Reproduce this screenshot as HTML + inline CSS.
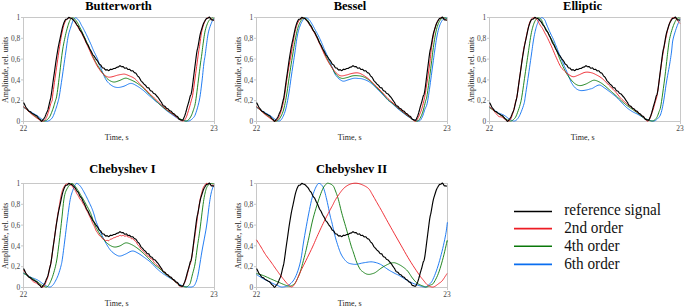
<!DOCTYPE html>
<html><head><meta charset="utf-8"><style>
html,body{margin:0;padding:0;background:#fff;width:685px;height:308px;overflow:hidden}
svg{display:block}
text{font-family:"Liberation Serif",serif}
.tk{font-size:7.4px;fill:#444}
.al{font-size:8px;fill:#222}
.ti{font-size:12.5px;font-weight:bold;fill:#000}
.lg{font-size:15.25px;fill:#111}
</style></head><body>
<svg width="685" height="308" viewBox="0 0 685 308">
<rect x="23.5" y="17.5" width="191.0" height="104.0" fill="none" stroke="#c8c8c8" stroke-width="1"/>
<line x1="21.0" y1="121.5" x2="23.5" y2="121.5" stroke="#c8c8c8" stroke-width="1"/>
<text x="20.3" y="124.1" text-anchor="end" class="tk">0</text>
<line x1="21.0" y1="100.7" x2="23.5" y2="100.7" stroke="#c8c8c8" stroke-width="1"/>
<text x="20.3" y="103.3" text-anchor="end" class="tk">0,2</text>
<line x1="21.0" y1="79.9" x2="23.5" y2="79.9" stroke="#c8c8c8" stroke-width="1"/>
<text x="20.3" y="82.5" text-anchor="end" class="tk">0,4</text>
<line x1="21.0" y1="59.1" x2="23.5" y2="59.1" stroke="#c8c8c8" stroke-width="1"/>
<text x="20.3" y="61.7" text-anchor="end" class="tk">0,6</text>
<line x1="21.0" y1="38.3" x2="23.5" y2="38.3" stroke="#c8c8c8" stroke-width="1"/>
<text x="20.3" y="40.9" text-anchor="end" class="tk">0,8</text>
<line x1="21.0" y1="17.5" x2="23.5" y2="17.5" stroke="#c8c8c8" stroke-width="1"/>
<text x="20.3" y="20.1" text-anchor="end" class="tk">1</text>
<line x1="23.5" y1="121.5" x2="23.5" y2="124.0" stroke="#c8c8c8" stroke-width="1"/>
<text x="23.5" y="130.8" text-anchor="middle" class="tk">22</text>
<line x1="214.5" y1="121.5" x2="214.5" y2="124.0" stroke="#c8c8c8" stroke-width="1"/>
<text x="214.0" y="130.8" text-anchor="middle" class="tk">23</text>
<text x="116.7" y="139.6" text-anchor="middle" class="al">Time, s</text>
<text transform="translate(8.2,69.8) rotate(-90)" text-anchor="middle" class="al">Amplitude, rel. units</text>
<text x="118.5" y="9.5" text-anchor="middle" class="ti">Butterworth</text>
<path d="M23.50,107.20 24.21,107.68 24.91,108.17 25.61,108.65 26.32,109.13 27.05,109.62 27.80,110.10 28.58,110.58 29.39,111.07 30.21,111.55 31.04,112.03 31.88,112.52 32.70,113.00 33.53,113.48 34.37,113.96 35.21,114.44 36.04,114.93 36.84,115.41 37.60,115.90 38.32,116.41 39.01,116.94 39.67,117.48 40.30,118.00 40.91,118.48 41.50,118.90 42.05,119.26 42.56,119.57 43.04,119.85 43.51,120.09 43.99,120.31 44.50,120.50 45.02,120.70 45.54,120.91 46.06,121.10 46.61,121.22 47.18,121.23 47.80,121.10 48.48,120.85 49.22,120.50 49.99,120.06 50.77,119.49 51.51,118.77 52.20,117.90 52.84,116.81 53.44,115.49 54.03,114.04 54.58,112.52 55.10,111.01 55.60,109.60 56.07,108.26 56.51,106.93 56.92,105.61 57.30,104.31 57.66,103.04 58.00,101.80 58.28,100.76 58.51,99.95 58.71,99.16 58.92,98.21 59.17,96.89 59.50,95.00 59.91,92.47 60.38,89.42 60.89,86.01 61.42,82.38 61.97,78.66 62.50,75.00 63.04,71.26 63.61,67.29 64.19,63.24 64.76,59.25 65.30,55.46 65.80,52.00 66.25,48.86 66.66,45.92 67.04,43.18 67.42,40.63 67.80,38.27 68.20,36.10 68.62,34.17 69.05,32.49 69.49,31.01 69.93,29.64 70.36,28.33 70.80,27.00 71.23,25.63 71.67,24.26 72.10,22.95 72.53,21.74 72.97,20.67 73.40,19.80 73.83,19.12 74.24,18.59 74.66,18.20 75.08,17.96 75.53,17.86 76.00,17.90 76.52,18.13 77.10,18.56 77.69,19.14 78.27,19.79 78.82,20.47 79.30,21.10 79.71,21.72 80.07,22.37 80.39,23.04 80.69,23.72 80.99,24.38 81.30,25.00 81.60,25.53 81.87,25.98 82.13,26.41 82.42,26.89 82.77,27.50 83.20,28.30 83.73,29.33 84.35,30.54 85.03,31.88 85.73,33.29 86.43,34.71 87.10,36.10 87.77,37.49 88.45,38.94 89.14,40.41 89.80,41.86 90.43,43.23 91.00,44.50 91.49,45.64 91.92,46.68 92.31,47.66 92.69,48.60 93.08,49.53 93.50,50.50 93.97,51.50 94.47,52.50 94.97,53.51 95.48,54.50 95.96,55.46 96.40,56.40 96.79,57.27 97.14,58.07 97.46,58.85 97.79,59.65 98.12,60.52 98.50,61.50 98.89,62.57 99.27,63.70 99.67,64.89 100.11,66.16 100.62,67.53 101.20,69.00 101.88,70.68 102.64,72.57 103.46,74.56 104.33,76.53 105.21,78.34 106.10,79.90 107.00,81.19 107.94,82.33 108.90,83.31 109.87,84.17 110.84,84.93 111.80,85.60 112.74,86.17 113.67,86.63 114.60,86.99 115.54,87.24 116.50,87.41 117.50,87.50 118.54,87.49 119.60,87.36 120.69,87.14 121.80,86.86 122.90,86.54 124.00,86.20 125.11,85.76 126.23,85.20 127.36,84.59 128.47,84.03 129.56,83.60 130.60,83.40 131.58,83.44 132.51,83.65 133.41,84.00 134.30,84.45 135.23,84.96 136.20,85.50 137.23,86.09 138.30,86.75 139.39,87.48 140.50,88.25 141.61,89.06 142.70,89.90 143.78,90.77 144.87,91.70 145.95,92.67 147.03,93.65 148.12,94.63 149.20,95.60 150.32,96.59 151.49,97.62 152.65,98.66 153.77,99.64 154.80,100.54 155.70,101.30 156.39,101.84 156.89,102.18 157.29,102.43 157.71,102.70 158.25,103.08 159.00,103.70 160.02,104.61 161.23,105.74 162.56,107.00 163.91,108.28 165.22,109.48 166.40,110.50 167.44,111.33 168.40,112.04 169.31,112.68 170.19,113.28 171.08,113.87 172.00,114.50 172.96,115.18 173.94,115.89 174.93,116.59 175.90,117.26 176.83,117.87 177.70,118.40 178.47,118.83 179.16,119.19 179.80,119.49 180.46,119.75 181.17,119.98 182.00,120.20 182.98,120.43 184.10,120.66 185.27,120.86 186.44,121.01 187.54,121.06 188.50,121.00 189.32,120.81 190.06,120.52 190.72,120.14 191.33,119.68 191.92,119.16 192.50,118.60 193.05,118.07 193.54,117.58 194.01,117.02 194.47,116.31 194.96,115.34 195.50,114.00 196.11,112.26 196.79,110.18 197.48,107.84 198.17,105.31 198.82,102.67 199.40,100.00 199.90,97.23 200.36,94.30 200.78,91.25 201.16,88.15 201.53,85.05 201.90,82.00 202.26,78.90 202.60,75.67 202.92,72.44 203.23,69.33 203.52,66.48 203.80,64.00 204.06,61.99 204.31,60.38 204.54,59.01 204.76,57.76 204.98,56.47 205.20,55.00 205.41,53.40 205.61,51.79 205.81,50.14 206.02,48.44 206.24,46.67 206.50,44.80 206.78,42.77 207.07,40.59 207.37,38.32 207.71,36.07 208.08,33.90 208.50,31.90 208.99,30.01 209.54,28.16 210.14,26.39 210.73,24.76 211.30,23.32 211.80,22.10 212.23,21.18 212.61,20.54 212.97,20.09 213.31,19.72 213.65,19.36 214.00,18.90" fill="none" stroke="#0a6ef0" stroke-width="0.9" stroke-linejoin="round"/>
<path d="M23.50,107.00 24.21,107.58 24.91,108.15 25.61,108.72 26.32,109.30 27.05,109.89 27.80,110.50 28.58,111.14 29.39,111.81 30.21,112.50 31.04,113.19 31.88,113.86 32.70,114.50 33.53,115.13 34.37,115.75 35.21,116.36 36.04,116.94 36.84,117.49 37.60,118.00 38.31,118.47 38.99,118.91 39.64,119.32 40.27,119.69 40.89,120.02 41.50,120.30 42.08,120.57 42.63,120.84 43.17,121.07 43.71,121.22 44.28,121.24 44.90,121.10 45.59,120.79 46.33,120.35 47.10,119.79 47.87,119.10 48.61,118.31 49.30,117.40 49.94,116.34 50.54,115.10 51.12,113.76 51.68,112.35 52.20,110.95 52.70,109.60 53.16,108.29 53.60,106.96 54.00,105.64 54.38,104.33 54.75,103.04 55.10,101.80 55.43,100.76 55.71,99.95 55.99,99.16 56.26,98.21 56.56,96.89 56.90,95.00 57.28,92.47 57.70,89.42 58.14,86.01 58.59,82.38 59.05,78.66 59.50,75.00 59.96,71.24 60.42,67.24 60.89,63.16 61.37,59.16 61.84,55.38 62.30,52.00 62.76,49.03 63.21,46.36 63.66,43.91 64.11,41.64 64.56,39.49 65.00,37.40 65.44,35.39 65.87,33.50 66.31,31.74 66.74,30.07 67.17,28.50 67.60,27.00 68.03,25.55 68.47,24.17 68.90,22.87 69.33,21.69 69.77,20.66 70.20,19.80 70.63,19.12 71.04,18.61 71.46,18.24 71.89,18.00 72.33,17.89 72.80,17.90 73.30,18.03 73.81,18.31 74.34,18.71 74.89,19.21 75.44,19.82 76.00,20.50 76.57,21.29 77.14,22.19 77.73,23.19 78.32,24.26 78.91,25.37 79.50,26.50 80.08,27.66 80.67,28.89 81.25,30.16 81.83,31.44 82.42,32.73 83.00,34.00 83.60,35.27 84.21,36.58 84.82,37.88 85.41,39.16 85.98,40.37 86.50,41.50 86.96,42.51 87.37,43.41 87.76,44.26 88.13,45.09 88.50,45.95 88.90,46.90 89.32,47.93 89.74,49.01 90.16,50.13 90.60,51.26 91.04,52.39 91.50,53.50 91.97,54.60 92.46,55.71 92.96,56.82 93.47,57.91 93.98,58.98 94.50,60.00 95.00,60.95 95.48,61.82 95.96,62.66 96.48,63.53 97.05,64.46 97.70,65.50 98.46,66.70 99.30,68.04 100.20,69.44 101.12,70.84 102.03,72.18 102.90,73.40 103.71,74.51 104.50,75.57 105.27,76.56 106.05,77.49 106.85,78.34 107.70,79.10 108.60,79.79 109.53,80.43 110.49,80.99 111.47,81.45 112.44,81.79 113.40,82.00 114.35,82.04 115.29,81.92 116.22,81.69 117.17,81.38 118.13,81.03 119.10,80.70 120.11,80.31 121.16,79.82 122.22,79.29 123.27,78.80 124.27,78.42 125.20,78.20 126.02,78.16 126.74,78.25 127.42,78.44 128.11,78.71 128.85,79.04 129.70,79.40 130.67,79.80 131.72,80.26 132.82,80.77 133.96,81.33 135.09,81.95 136.20,82.60 137.28,83.30 138.37,84.05 139.45,84.84 140.53,85.69 141.62,86.57 142.70,87.50 143.78,88.49 144.87,89.55 145.95,90.65 147.03,91.77 148.12,92.90 149.20,94.00 150.32,95.12 151.49,96.29 152.65,97.46 153.77,98.58 154.80,99.61 155.70,100.50 156.39,101.19 156.89,101.70 157.29,102.12 157.71,102.53 158.25,103.03 159.00,103.70 159.98,104.57 161.12,105.57 162.37,106.65 163.69,107.77 165.05,108.87 166.40,109.90 167.79,110.89 169.27,111.88 170.79,112.85 172.28,113.79 173.70,114.68 175.00,115.50 176.16,116.26 177.21,116.98 178.19,117.64 179.13,118.26 180.05,118.81 181.00,119.30 181.98,119.77 182.96,120.23 183.93,120.64 184.87,120.93 185.76,121.07 186.60,121.00 187.37,120.70 188.09,120.22 188.76,119.58 189.40,118.80 190.01,117.94 190.60,117.00 191.17,115.96 191.71,114.78 192.22,113.50 192.71,112.17 193.17,110.82 193.60,109.50 193.98,108.35 194.31,107.37 194.61,106.38 194.91,105.19 195.23,103.62 195.60,101.50 196.03,98.63 196.50,95.13 197.00,91.25 197.50,87.26 197.97,83.42 198.40,80.00 198.79,76.93 199.15,74.00 199.49,71.22 199.81,68.61 200.12,66.20 200.40,64.00 200.65,62.13 200.88,60.59 201.08,59.24 201.28,57.95 201.48,56.58 201.70,55.00 201.93,53.21 202.16,51.32 202.40,49.35 202.65,47.33 202.91,45.27 203.20,43.20 203.50,41.06 203.81,38.80 204.14,36.52 204.50,34.27 204.88,32.14 205.30,30.20 205.77,28.41 206.28,26.72 206.82,25.14 207.39,23.69 207.95,22.41 208.50,21.30 209.06,20.40 209.63,19.68 210.21,19.12 210.78,18.69 211.31,18.36 211.80,18.10 212.23,17.96 212.61,17.97 212.97,18.08 213.31,18.23 213.65,18.39 214.00,18.50" fill="none" stroke="#0a780a" stroke-width="0.9" stroke-linejoin="round"/>
<path d="M23.50,106.50 24.21,107.18 24.91,107.86 25.61,108.53 26.32,109.21 27.05,109.90 27.80,110.60 28.57,111.32 29.35,112.05 30.15,112.79 30.97,113.53 31.82,114.27 32.70,115.00 33.65,115.75 34.69,116.53 35.74,117.31 36.78,118.06 37.75,118.73 38.60,119.30 39.31,119.79 39.92,120.22 40.46,120.58 40.96,120.86 41.46,121.04 42.00,121.10 42.57,121.07 43.15,120.95 43.73,120.74 44.30,120.40 44.86,119.93 45.40,119.30 45.92,118.48 46.42,117.47 46.91,116.33 47.39,115.09 47.85,113.80 48.30,112.50 48.74,111.10 49.17,109.56 49.58,107.96 49.98,106.41 50.35,104.99 50.70,103.80 51.03,102.90 51.34,102.21 51.62,101.67 51.89,101.17 52.11,100.65 52.30,100.00 52.41,99.41 52.43,98.98 52.42,98.51 52.43,97.82 52.51,96.72 52.70,95.00 53.02,92.57 53.44,89.56 53.92,86.12 54.44,82.44 54.98,78.68 55.50,75.00 56.03,71.24 56.60,67.24 57.18,63.16 57.76,59.16 58.30,55.38 58.80,52.00 59.24,49.05 59.63,46.40 59.99,43.99 60.35,41.74 60.71,39.57 61.10,37.40 61.52,35.22 61.94,33.07 62.38,31.01 62.82,29.06 63.26,27.28 63.70,25.70 64.13,24.33 64.54,23.16 64.96,22.14 65.39,21.26 65.83,20.48 66.30,19.80 66.80,19.21 67.31,18.74 67.84,18.38 68.39,18.12 68.94,17.96 69.50,17.90 70.07,17.94 70.65,18.09 71.24,18.33 71.84,18.67 72.42,19.10 73.00,19.60 73.56,20.21 74.12,20.95 74.67,21.77 75.21,22.64 75.76,23.53 76.30,24.40 76.84,25.26 77.37,26.14 77.90,27.04 78.43,27.95 78.96,28.87 79.50,29.80 80.04,30.72 80.58,31.62 81.12,32.54 81.67,33.49 82.23,34.50 82.80,35.60 83.41,36.83 84.04,38.18 84.69,39.59 85.33,41.01 85.94,42.36 86.50,43.60 87.01,44.71 87.49,45.74 87.94,46.72 88.37,47.66 88.78,48.58 89.20,49.50 89.60,50.41 89.97,51.29 90.33,52.14 90.70,53.00 91.08,53.88 91.50,54.80 91.96,55.77 92.46,56.78 92.97,57.81 93.50,58.83 94.01,59.84 94.50,60.80 94.94,61.69 95.34,62.53 95.74,63.35 96.16,64.18 96.63,65.05 97.20,66.00 97.88,67.08 98.64,68.26 99.46,69.49 100.31,70.70 101.17,71.82 102.00,72.80 102.82,73.65 103.66,74.41 104.49,75.10 105.32,75.70 106.13,76.20 106.90,76.60 107.60,76.89 108.24,77.07 108.85,77.15 109.49,77.16 110.19,77.10 111.00,77.00 111.97,76.82 113.08,76.53 114.25,76.18 115.42,75.81 116.53,75.47 117.50,75.20 118.33,75.00 119.07,74.84 119.75,74.70 120.38,74.59 120.99,74.49 121.60,74.40 122.18,74.31 122.70,74.21 123.21,74.14 123.72,74.10 124.27,74.11 124.90,74.20 125.61,74.38 126.39,74.63 127.20,74.93 128.04,75.27 128.88,75.64 129.70,76.00 130.51,76.35 131.33,76.69 132.14,77.06 132.96,77.46 133.78,77.94 134.60,78.50 135.40,79.16 136.17,79.90 136.95,80.70 137.75,81.56 138.59,82.46 139.50,83.40 140.49,84.39 141.55,85.45 142.65,86.55 143.77,87.67 144.90,88.80 146.00,89.90 147.13,91.03 148.31,92.23 149.50,93.43 150.63,94.56 151.65,95.57 152.50,96.40 153.12,96.98 153.56,97.33 153.88,97.57 154.17,97.78 154.51,98.06 155.00,98.50 155.61,99.10 156.26,99.79 156.97,100.54 157.75,101.36 158.59,102.21 159.50,103.10 160.51,104.05 161.63,105.09 162.81,106.17 164.02,107.26 165.23,108.31 166.40,109.30 167.55,110.22 168.71,111.10 169.87,111.95 171.02,112.78 172.13,113.59 173.20,114.40 174.23,115.23 175.25,116.07 176.23,116.90 177.17,117.69 178.07,118.40 178.90,119.00 179.67,119.52 180.37,120.00 181.03,120.39 181.64,120.69 182.23,120.87 182.80,120.90 183.34,120.80 183.84,120.59 184.32,120.26 184.78,119.80 185.23,119.18 185.70,118.40 186.17,117.42 186.64,116.26 187.10,114.94 187.56,113.51 188.03,112.02 188.50,110.50 188.99,108.89 189.50,107.16 190.02,105.35 190.52,103.54 190.98,101.81 191.40,100.20 191.71,99.08 191.93,98.48 192.11,97.94 192.33,97.02 192.63,95.29 193.10,92.30 193.80,87.45 194.69,80.98 195.67,73.69 196.66,66.39 197.53,59.89 198.20,55.00 198.62,52.01 198.87,50.32 199.01,49.44 199.12,48.84 199.26,48.03 199.50,46.50 199.84,44.16 200.21,41.40 200.62,38.42 201.06,35.43 201.52,32.62 202.00,30.20 202.50,28.12 203.04,26.23 203.61,24.51 204.18,22.99 204.75,21.65 205.30,20.50 205.83,19.57 206.34,18.84 206.85,18.31 207.37,17.94 207.92,17.72 208.50,17.60 209.16,17.67 209.90,17.96 210.66,18.39 211.40,18.87 212.06,19.34 212.60,19.70 212.99,19.96 213.27,20.19 213.47,20.40 213.63,20.60 213.80,20.79 214.00,21.00" fill="none" stroke="#ed1c24" stroke-width="0.9" stroke-linejoin="round"/>
<path d="M23.50,102.60 23.86,103.04 24.23,103.70 24.58,104.49 24.93,105.28 25.28,106.07 25.64,106.84 26.00,107.33 26.37,107.82 26.76,108.29 27.16,108.73 27.59,109.41 28.05,110.11 28.53,110.81 29.05,111.28 29.59,111.49 30.14,111.66 30.72,112.02 31.29,112.57 31.87,113.11 32.44,113.48 33.01,113.81 33.59,114.13 34.17,114.49 34.76,114.85 35.35,115.18 35.94,115.47 36.51,115.77 37.08,116.28 37.62,116.99 38.10,117.71 38.53,118.29 38.94,118.59 39.32,118.92 39.72,119.22 40.18,119.64 40.77,120.53 41.45,121.36 42.10,120.85 42.66,120.06 43.16,119.29 43.61,118.85 44.01,118.38 44.38,117.88 44.73,117.35 45.06,116.64 45.37,115.88 45.66,115.13 45.95,114.39 46.22,113.65 46.48,112.98 46.73,112.48 46.97,111.97 47.20,111.44 47.43,110.90 47.64,110.34 47.86,109.78 48.05,109.15 48.25,108.38 48.43,107.63 48.61,106.88 48.78,106.13 48.95,105.38 49.12,104.64 49.28,103.90 49.45,103.16 49.61,102.42 49.77,101.78 49.93,101.15 50.10,100.51 50.27,99.88 50.44,99.25 50.58,98.60 50.72,97.94 50.84,97.28 50.96,96.61 51.07,95.94 51.19,95.27 51.29,94.56 51.39,93.84 51.50,93.12 51.60,92.40 51.70,91.69 51.80,90.97 51.89,90.26 51.99,89.54 52.09,88.83 52.18,88.11 52.28,87.40 52.37,86.68 52.47,85.97 52.56,85.25 52.66,84.54 52.75,83.83 52.85,83.13 52.94,82.46 53.04,81.79 53.13,81.12 53.23,80.45 53.32,79.78 53.42,79.12 53.52,78.45 53.61,77.78 53.71,77.11 53.81,76.44 53.91,75.78 54.01,75.11 54.11,74.44 54.21,73.78 54.31,73.11 54.40,72.44 54.50,71.72 54.60,71.00 54.70,70.28 54.80,69.57 54.90,68.85 55.00,68.13 55.10,67.41 55.20,66.69 55.30,65.97 55.40,65.26 55.50,64.54 55.60,63.82 55.70,63.10 55.80,62.38 55.91,61.66 56.01,60.95 56.11,60.27 56.21,59.60 56.31,58.93 56.42,58.25 56.52,57.58 56.63,56.91 56.73,56.24 56.84,55.57 56.95,54.90 57.06,54.23 57.17,53.56 57.28,52.89 57.39,52.22 57.51,51.56 57.63,50.88 57.75,50.15 57.87,49.43 58.00,48.69 58.13,47.96 58.26,47.22 58.40,46.48 58.54,45.75 58.68,45.00 58.83,44.26 58.98,43.52 59.13,42.77 59.28,42.08 59.43,41.45 59.57,40.82 59.72,40.18 59.86,39.54 60.00,38.90 60.13,38.26 60.27,37.61 60.40,36.97 60.54,36.32 60.68,35.68 60.81,35.03 60.96,34.30 61.10,33.57 61.25,32.83 61.40,32.10 61.57,31.36 61.73,30.62 61.90,29.88 62.06,29.14 62.24,28.40 62.41,27.66 62.58,27.03 62.76,26.41 62.94,25.79 63.13,25.18 63.32,24.58 63.52,23.98 63.74,23.39 63.96,22.83 64.21,22.14 64.50,21.44 64.83,20.72 65.24,20.01 65.73,19.43 66.29,19.28 66.88,19.20 67.48,18.82 68.12,18.07 68.78,17.33 69.47,17.59 70.17,18.04 70.85,18.25 71.49,18.39 72.09,18.69 72.65,19.25 73.17,19.83 73.66,20.40 74.11,20.79 74.54,21.22 74.95,21.67 75.34,22.22 75.73,22.89 76.11,23.57 76.49,24.24 76.88,24.87 77.26,25.28 77.63,25.70 78.01,26.14 78.37,26.57 78.74,27.37 79.10,28.19 79.45,29.01 79.81,29.83 80.17,30.46 80.53,30.87 80.89,31.27 81.25,31.68 81.60,32.09 81.95,32.82 82.29,33.55 82.63,34.28 82.95,35.01 83.27,35.70 83.57,36.24 83.87,36.80 84.16,37.36 84.44,37.93 84.72,38.50 85.00,39.17 85.28,39.88 85.56,40.59 85.85,41.30 86.15,42.01 86.45,42.69 86.75,43.22 87.06,43.75 87.39,44.27 87.71,44.79 88.04,45.32 88.37,46.04 88.70,46.76 89.03,47.48 89.37,48.20 89.71,48.87 90.04,49.45 90.39,50.02 90.73,50.59 91.07,51.16 91.42,51.81 91.77,52.50 92.12,53.20 92.48,53.90 92.83,54.57 93.19,55.04 93.56,55.50 93.93,55.96 94.30,56.41 94.68,57.00 95.06,57.66 95.44,58.31 95.84,58.95 96.23,59.50 96.64,59.97 97.05,60.43 97.46,60.88 97.88,61.56 98.30,62.36 98.72,63.15 99.15,63.95 99.58,64.31 100.02,64.59 100.46,64.87 100.92,65.27 101.38,66.10 101.86,66.94 102.37,67.79 102.88,67.97 103.42,68.04 103.98,68.08 104.54,68.80 105.14,69.54 105.76,70.07 106.41,69.91 107.08,69.62 107.78,70.09 108.48,70.63 109.16,70.46 109.84,69.75 110.50,69.18 111.15,69.37 111.80,69.55 112.45,69.27 113.11,68.82 113.78,68.49 114.44,68.45 115.10,68.39 115.76,67.98 116.42,67.50 117.08,67.18 117.74,67.08 118.41,66.99 119.09,66.35 119.78,65.72 120.48,65.86 121.18,66.48 121.87,66.83 122.55,66.68 123.22,66.59 123.89,67.34 124.55,68.10 125.20,68.23 125.86,68.00 126.51,67.93 127.16,68.62 127.80,69.33 128.45,69.46 129.10,69.34 129.75,69.40 130.40,70.09 131.04,70.79 131.66,70.85 132.27,70.74 132.85,70.77 133.40,71.44 133.94,72.11 134.47,72.72 134.97,72.87 135.47,73.05 135.95,73.26 136.43,73.99 136.90,74.76 137.36,75.54 137.82,76.11 138.26,76.50 138.70,76.90 139.11,77.33 139.52,78.04 139.92,78.82 140.33,79.59 140.73,80.37 141.13,80.88 141.54,81.33 141.96,81.76 142.39,82.17 142.84,82.72 143.30,83.26 143.78,83.80 144.27,84.28 144.77,84.71 145.27,85.14 145.78,85.67 146.29,86.39 146.80,87.11 147.30,87.70 147.80,87.76 148.30,87.83 148.79,87.91 149.29,88.78 149.78,89.66 150.28,90.55 150.78,90.84 151.28,90.95 151.79,91.04 152.30,91.55 152.84,92.38 153.42,93.21 154.05,93.52 154.63,93.71 155.13,94.04 155.61,94.58 156.07,95.15 156.51,95.73 156.94,96.27 157.38,96.73 157.80,97.20 158.22,97.67 158.64,98.24 159.04,98.87 159.45,99.50 159.83,100.14 160.22,100.71 160.60,101.23 160.98,101.75 161.37,102.26 161.77,102.89 162.17,103.71 162.60,104.53 163.04,105.36 163.52,105.78 164.01,105.95 164.51,106.07 165.04,106.46 165.58,107.21 166.12,107.96 166.67,108.41 167.22,108.56 167.76,108.71 168.31,109.17 168.87,109.86 169.44,110.55 170.00,110.88 170.57,111.06 171.13,111.25 171.69,111.87 172.24,112.55 172.78,113.23 173.32,113.54 173.85,113.83 174.38,114.12 174.92,114.72 175.45,115.34 175.98,115.95 176.51,116.13 177.03,116.31 177.54,116.51 178.04,117.33 178.53,118.23 179.03,119.13 179.54,119.51 180.05,119.62 180.60,119.65 181.17,119.93 181.82,120.27 182.49,120.26 182.99,119.72 183.33,119.08 183.62,118.40 183.90,117.72 184.17,117.13 184.43,116.58 184.66,116.00 184.87,115.41 185.08,114.80 185.28,114.19 185.47,113.58 185.67,112.93 185.86,112.20 186.05,111.48 186.25,110.75 186.44,110.03 186.63,109.30 186.82,108.58 187.01,107.86 187.20,107.13 187.38,106.52 187.56,105.91 187.75,105.30 187.93,104.68 188.11,104.07 188.29,103.46 188.48,102.85 188.66,102.24 188.85,101.59 189.03,100.84 189.22,100.08 189.40,99.33 189.59,98.58 189.77,97.82 189.95,97.06 190.17,96.27 190.47,95.51 190.79,95.03 191.02,94.47 191.18,93.84 191.33,93.20 191.47,92.55 191.59,91.88 191.71,91.21 191.82,90.54 191.93,89.87 192.03,89.17 192.13,88.46 192.22,87.74 192.32,87.02 192.42,86.30 192.52,85.59 192.61,84.87 192.70,84.16 192.79,83.44 192.88,82.73 192.97,82.01 193.06,81.30 193.15,80.58 193.23,79.86 193.32,79.15 193.41,78.44 193.50,77.72 193.59,77.01 193.67,76.33 193.76,75.65 193.85,74.98 193.93,74.30 194.02,73.62 194.11,72.95 194.19,72.27 194.28,71.60 194.37,70.92 194.45,70.24 194.54,69.57 194.62,68.89 194.71,68.22 194.80,67.54 194.88,66.86 194.97,66.19 195.06,65.51 195.14,64.84 195.23,64.15 195.32,63.45 195.41,62.75 195.49,62.05 195.58,61.35 195.67,60.64 195.76,59.94 195.85,59.24 195.94,58.54 196.03,57.84 196.12,57.14 196.21,56.44 196.31,55.73 196.40,55.03 196.50,54.33 196.60,53.63 196.70,52.93 196.81,52.23 196.92,51.55 197.04,50.87 197.16,50.19 197.31,49.53 197.48,48.87 197.66,48.21 197.81,47.54 197.95,46.86 198.08,46.18 198.20,45.50 198.33,44.82 198.45,44.13 198.57,43.42 198.69,42.71 198.81,42.00 198.93,41.29 199.05,40.59 199.17,39.88 199.29,39.17 199.41,38.46 199.54,37.75 199.67,37.04 199.80,36.34 199.93,35.62 200.07,34.94 200.22,34.28 200.37,33.63 200.53,32.98 200.70,32.34 200.87,31.70 201.06,31.08 201.25,30.45 201.46,29.84 201.66,29.19 201.88,28.46 202.11,27.71 202.34,26.97 202.58,26.22 202.82,25.47 203.06,24.73 203.31,24.04 203.56,23.45 203.83,22.87 204.10,22.30 204.40,21.75 204.73,21.24 205.10,20.58 205.51,19.89 205.96,19.20 206.44,18.55 206.97,18.33 207.54,18.20 208.17,18.01 208.85,17.32 209.51,17.05 210.09,17.88 210.64,18.83 211.18,19.74 211.67,19.86 212.12,20.05 212.67,19.91 213.35,20.05 214.00,20.21" fill="none" stroke="#000" stroke-width="1.15" stroke-linejoin="round"/>
<rect x="256.5" y="17.5" width="191.0" height="104.0" fill="none" stroke="#c8c8c8" stroke-width="1"/>
<line x1="254.0" y1="121.5" x2="256.5" y2="121.5" stroke="#c8c8c8" stroke-width="1"/>
<text x="253.3" y="124.1" text-anchor="end" class="tk">0</text>
<line x1="254.0" y1="100.7" x2="256.5" y2="100.7" stroke="#c8c8c8" stroke-width="1"/>
<text x="253.3" y="103.3" text-anchor="end" class="tk">0,2</text>
<line x1="254.0" y1="79.9" x2="256.5" y2="79.9" stroke="#c8c8c8" stroke-width="1"/>
<text x="253.3" y="82.5" text-anchor="end" class="tk">0,4</text>
<line x1="254.0" y1="59.1" x2="256.5" y2="59.1" stroke="#c8c8c8" stroke-width="1"/>
<text x="253.3" y="61.7" text-anchor="end" class="tk">0,6</text>
<line x1="254.0" y1="38.3" x2="256.5" y2="38.3" stroke="#c8c8c8" stroke-width="1"/>
<text x="253.3" y="40.9" text-anchor="end" class="tk">0,8</text>
<line x1="254.0" y1="17.5" x2="256.5" y2="17.5" stroke="#c8c8c8" stroke-width="1"/>
<text x="253.3" y="20.1" text-anchor="end" class="tk">1</text>
<line x1="256.5" y1="121.5" x2="256.5" y2="124.0" stroke="#c8c8c8" stroke-width="1"/>
<text x="256.5" y="130.8" text-anchor="middle" class="tk">22</text>
<line x1="447.5" y1="121.5" x2="447.5" y2="124.0" stroke="#c8c8c8" stroke-width="1"/>
<text x="447.0" y="130.8" text-anchor="middle" class="tk">23</text>
<text x="349.7" y="139.6" text-anchor="middle" class="al">Time, s</text>
<text transform="translate(241.2,69.8) rotate(-90)" text-anchor="middle" class="al">Amplitude, rel. units</text>
<text x="350.0" y="9.5" text-anchor="middle" class="ti">Bessel</text>
<path d="M256.50,107.20 257.21,107.68 257.91,108.17 258.61,108.65 259.32,109.13 260.05,109.62 260.80,110.10 261.58,110.58 262.39,111.07 263.21,111.55 264.04,112.03 264.88,112.52 265.70,113.00 266.53,113.48 267.37,113.96 268.21,114.44 269.04,114.93 269.84,115.41 270.60,115.90 271.30,116.40 271.96,116.93 272.58,117.45 273.20,117.96 273.83,118.45 274.50,118.90 275.22,119.36 275.98,119.84 276.75,120.29 277.51,120.67 278.24,120.93 278.90,121.00 279.49,120.92 280.01,120.73 280.51,120.41 280.99,119.95 281.48,119.32 282.00,118.50 282.56,117.51 283.15,116.35 283.75,115.03 284.35,113.54 284.94,111.86 285.50,110.00 286.04,107.93 286.57,105.67 287.09,103.22 287.60,100.61 288.10,97.86 288.60,95.00 289.09,91.97 289.57,88.74 290.04,85.38 290.52,81.93 291.00,78.45 291.50,75.00 292.02,71.52 292.57,67.96 293.12,64.38 293.67,60.81 294.20,57.34 294.70,54.00 295.17,50.73 295.61,47.48 296.03,44.31 296.45,41.30 296.87,38.50 297.30,36.00 297.74,33.82 298.18,31.93 298.62,30.25 299.07,28.74 299.53,27.34 300.00,26.00 300.48,24.72 300.99,23.56 301.49,22.51 302.00,21.56 302.51,20.73 303.00,20.00 303.47,19.38 303.93,18.87 304.39,18.48 304.84,18.18 305.31,17.99 305.80,17.90 306.31,17.92 306.84,18.05 307.39,18.29 307.93,18.61 308.47,19.02 309.00,19.50 309.51,20.07 310.01,20.75 310.51,21.51 311.01,22.32 311.50,23.16 312.00,24.00 312.49,24.85 312.98,25.72 313.47,26.62 313.96,27.56 314.47,28.51 315.00,29.50 315.55,30.51 316.13,31.56 316.72,32.62 317.31,33.72 317.91,34.85 318.50,36.00 319.10,37.22 319.72,38.52 320.34,39.84 320.94,41.15 321.50,42.38 322.00,43.50 322.41,44.47 322.76,45.33 323.06,46.12 323.35,46.89 323.66,47.67 324.00,48.50 324.39,49.38 324.80,50.28 325.22,51.19 325.65,52.11 326.08,53.05 326.50,54.00 326.91,54.95 327.30,55.89 327.69,56.84 328.09,57.83 328.53,58.88 329.00,60.00 329.53,61.22 330.10,62.54 330.69,63.91 331.30,65.30 331.91,66.67 332.50,68.00 333.04,69.30 333.53,70.61 334.01,71.91 334.54,73.17 335.16,74.37 335.90,75.50 336.81,76.61 337.87,77.73 339.01,78.79 340.19,79.73 341.33,80.49 342.40,81.00 343.38,81.20 344.33,81.14 345.25,80.89 346.16,80.55 347.07,80.19 348.00,79.90 348.95,79.64 349.92,79.34 350.89,79.02 351.85,78.72 352.79,78.47 353.70,78.30 354.59,78.23 355.46,78.22 356.31,78.27 357.13,78.34 357.93,78.43 358.70,78.50 359.40,78.54 360.01,78.56 360.61,78.59 361.22,78.65 361.90,78.78 362.70,79.00 363.64,79.30 364.68,79.66 365.79,80.07 366.94,80.57 368.09,81.14 369.20,81.80 370.28,82.57 371.37,83.46 372.45,84.42 373.53,85.43 374.62,86.47 375.70,87.50 376.79,88.54 377.89,89.62 378.99,90.72 380.09,91.83 381.16,92.92 382.20,94.00 383.23,95.09 384.25,96.20 385.26,97.31 386.23,98.37 387.15,99.34 388.00,100.20 388.73,100.87 389.34,101.36 389.90,101.78 390.48,102.19 391.16,102.70 392.00,103.40 392.99,104.28 394.07,105.29 395.24,106.39 396.52,107.56 397.90,108.77 399.40,110.00 401.10,111.34 403.00,112.81 405.01,114.34 407.03,115.81 408.96,117.13 410.70,118.20 412.28,119.05 413.78,119.77 415.19,120.34 416.50,120.75 417.67,120.97 418.70,121.00 419.54,120.81 420.20,120.41 420.72,119.83 421.18,119.09 421.62,118.24 422.10,117.30 422.60,116.23 423.07,114.99 423.53,113.64 423.98,112.21 424.43,110.75 424.90,109.30 425.35,108.16 425.78,107.35 426.21,106.51 426.67,105.28 427.19,103.30 427.80,100.20 428.56,95.48 429.46,89.32 430.41,82.41 431.36,75.43 432.21,69.06 432.90,64.00 433.40,60.38 433.76,57.69 434.03,55.61 434.26,53.84 434.50,52.08 434.80,50.00 435.15,47.62 435.50,45.19 435.86,42.75 436.23,40.37 436.61,38.10 437.00,36.00 437.39,34.06 437.79,32.22 438.20,30.50 438.62,28.89 439.05,27.39 439.50,26.00 439.97,24.72 440.46,23.56 440.97,22.50 441.48,21.56 441.99,20.72 442.50,20.00 443.02,19.41 443.56,18.95 444.09,18.61 444.61,18.35 445.09,18.15 445.50,18.00 445.84,17.92 446.11,17.93 446.34,18.01 446.56,18.11 446.77,18.22 447.00,18.30" fill="none" stroke="#0a6ef0" stroke-width="0.9" stroke-linejoin="round"/>
<path d="M256.50,107.00 257.21,107.58 257.91,108.15 258.61,108.72 259.32,109.30 260.05,109.89 260.80,110.50 261.58,111.14 262.39,111.81 263.21,112.50 264.04,113.19 264.88,113.86 265.70,114.50 266.53,115.13 267.39,115.75 268.24,116.36 269.08,116.94 269.87,117.49 270.60,118.00 271.26,118.47 271.86,118.91 272.43,119.32 272.96,119.70 273.48,120.02 274.00,120.30 274.51,120.55 275.00,120.79 275.47,120.98 275.94,121.10 276.41,121.12 276.90,121.00 277.40,120.77 277.90,120.46 278.41,120.04 278.93,119.51 279.46,118.83 280.00,118.00 280.56,117.04 281.15,115.96 281.75,114.75 282.35,113.37 282.94,111.80 283.50,110.00 284.04,107.96 284.57,105.70 285.09,103.25 285.60,100.63 286.10,97.87 286.60,95.00 287.09,91.97 287.57,88.74 288.04,85.38 288.51,81.93 289.00,78.45 289.50,75.00 290.04,71.48 290.60,67.81 291.18,64.12 291.75,60.52 292.30,57.11 292.80,54.00 293.25,51.23 293.66,48.72 294.05,46.41 294.43,44.22 294.80,42.11 295.20,40.00 295.61,37.89 296.01,35.81 296.43,33.81 296.84,31.91 297.26,30.13 297.70,28.50 298.14,27.03 298.59,25.71 299.05,24.51 299.52,23.41 300.00,22.42 300.50,21.50 301.02,20.64 301.56,19.84 302.11,19.14 302.67,18.57 303.24,18.14 303.80,17.90 304.36,17.86 304.93,18.00 305.50,18.30 306.07,18.72 306.64,19.23 307.20,19.80 307.76,20.47 308.32,21.28 308.88,22.18 309.43,23.12 309.97,24.08 310.50,25.00 311.01,25.89 311.51,26.79 312.00,27.70 312.49,28.62 312.99,29.55 313.50,30.50 314.03,31.45 314.57,32.41 315.12,33.38 315.67,34.37 316.23,35.41 316.80,36.50 317.38,37.67 317.96,38.91 318.56,40.19 319.15,41.48 319.73,42.76 320.30,44.00 320.85,45.19 321.38,46.35 321.90,47.50 322.42,48.65 322.95,49.81 323.50,51.00 324.07,52.23 324.64,53.50 325.23,54.78 325.82,56.06 326.41,57.30 327.00,58.50 327.56,59.61 328.10,60.64 328.63,61.64 329.19,62.67 329.81,63.77 330.50,65.00 331.29,66.44 332.15,68.06 333.07,69.75 334.01,71.41 334.97,72.93 335.90,74.20 336.82,75.24 337.75,76.13 338.68,76.88 339.62,77.49 340.56,77.96 341.50,78.30 342.44,78.46 343.39,78.43 344.34,78.26 345.30,78.01 346.25,77.74 347.20,77.50 348.15,77.25 349.10,76.94 350.04,76.60 350.99,76.27 351.94,76.00 352.90,75.80 353.87,75.69 354.86,75.63 355.85,75.62 356.83,75.66 357.78,75.72 358.70,75.80 359.56,75.89 360.37,76.00 361.16,76.14 361.95,76.33 362.75,76.58 363.60,76.90 364.48,77.29 365.38,77.72 366.30,78.21 367.24,78.78 368.21,79.44 369.20,80.20 370.23,81.10 371.30,82.13 372.39,83.26 373.50,84.42 374.61,85.59 375.70,86.70 376.79,87.77 377.89,88.83 378.99,89.89 380.09,90.96 381.16,92.02 382.20,93.10 383.23,94.23 384.25,95.41 385.26,96.60 386.23,97.74 387.15,98.79 388.00,99.70 388.73,100.39 389.34,100.90 389.90,101.31 390.48,101.72 391.16,102.22 392.00,102.90 392.99,103.75 394.07,104.71 395.24,105.76 396.52,106.88 397.90,108.06 399.40,109.30 401.11,110.68 403.04,112.24 405.09,113.86 407.12,115.44 409.03,116.85 410.70,118.00 412.12,118.95 413.38,119.80 414.52,120.49 415.56,120.96 416.55,121.15 417.50,121.00 418.41,120.46 419.24,119.58 420.01,118.42 420.74,117.04 421.43,115.51 422.10,113.90 422.76,112.06 423.39,109.93 423.98,107.64 424.54,105.35 425.05,103.22 425.50,101.40 425.85,100.20 426.10,99.56 426.31,99.08 426.52,98.34 426.80,96.95 427.20,94.50 427.77,90.59 428.48,85.47 429.25,79.69 430.02,73.82 430.73,68.40 431.30,64.00 431.72,60.72 432.02,58.15 432.26,56.03 432.48,54.13 432.71,52.20 433.00,50.00 433.35,47.50 433.71,44.89 434.10,42.25 434.50,39.67 434.90,37.22 435.30,35.00 435.70,32.99 436.10,31.14 436.51,29.42 436.92,27.83 437.35,26.36 437.80,25.00 438.27,23.75 438.76,22.63 439.26,21.62 439.77,20.73 440.28,19.96 440.80,19.30 441.32,18.78 441.86,18.41 442.40,18.15 442.94,17.98 443.48,17.87 444.00,17.80 444.51,17.79 445.01,17.87 445.51,18.01 446.01,18.19 446.50,18.36 447.00,18.50" fill="none" stroke="#0a780a" stroke-width="0.9" stroke-linejoin="round"/>
<path d="M256.50,106.50 257.21,107.18 257.91,107.86 258.61,108.53 259.32,109.21 260.05,109.90 260.80,110.60 261.57,111.32 262.35,112.05 263.15,112.79 263.97,113.53 264.82,114.27 265.70,115.00 266.66,115.75 267.70,116.54 268.77,117.32 269.82,118.06 270.78,118.73 271.60,119.30 272.26,119.77 272.79,120.18 273.23,120.51 273.64,120.77 274.05,120.93 274.50,121.00 274.99,120.99 275.49,120.92 275.99,120.76 276.50,120.49 277.00,120.08 277.50,119.50 278.01,118.73 278.52,117.80 279.03,116.72 279.54,115.54 280.03,114.29 280.50,113.00 280.95,111.64 281.40,110.19 281.83,108.66 282.24,107.09 282.64,105.53 283.00,104.00 283.32,102.63 283.59,101.41 283.83,100.19 284.08,98.81 284.36,97.14 284.70,95.00 285.09,92.31 285.52,89.19 285.98,85.75 286.46,82.15 286.97,78.52 287.50,75.00 288.08,71.48 288.72,67.81 289.38,64.12 290.04,60.52 290.65,57.11 291.20,54.00 291.66,51.24 292.06,48.74 292.43,46.44 292.77,44.26 293.12,42.14 293.50,40.00 293.90,37.83 294.31,35.67 294.72,33.56 295.14,31.56 295.56,29.69 296.00,28.00 296.44,26.50 296.88,25.15 297.32,23.94 297.79,22.86 298.28,21.88 298.80,21.00 299.37,20.20 299.97,19.50 300.61,18.91 301.25,18.43 301.88,18.09 302.50,17.90 303.10,17.87 303.69,18.00 304.27,18.26 304.86,18.63 305.43,19.08 306.00,19.60 306.56,20.21 307.12,20.95 307.67,21.77 308.21,22.64 308.76,23.53 309.30,24.40 309.84,25.26 310.37,26.14 310.90,27.04 311.43,27.95 311.96,28.87 312.50,29.80 313.04,30.72 313.58,31.62 314.12,32.54 314.67,33.49 315.23,34.50 315.80,35.60 316.41,36.83 317.04,38.18 317.69,39.59 318.33,41.01 318.94,42.36 319.50,43.60 320.00,44.69 320.46,45.69 320.89,46.62 321.31,47.54 321.74,48.48 322.20,49.50 322.70,50.61 323.22,51.79 323.75,53.00 324.28,54.20 324.80,55.34 325.30,56.40 325.77,57.36 326.22,58.25 326.66,59.09 327.09,59.90 327.54,60.70 328.00,61.50 328.46,62.27 328.91,63.00 329.36,63.71 329.85,64.44 330.39,65.23 331.00,66.10 331.71,67.11 332.50,68.25 333.34,69.44 334.20,70.61 335.07,71.69 335.90,72.60 336.70,73.37 337.47,74.06 338.25,74.66 339.04,75.15 339.85,75.54 340.70,75.80 341.60,75.91 342.53,75.86 343.49,75.70 344.47,75.47 345.44,75.23 346.40,75.00 347.35,74.77 348.30,74.49 349.24,74.18 350.19,73.88 351.14,73.61 352.10,73.40 353.07,73.23 354.06,73.06 355.06,72.93 356.04,72.85 356.99,72.83 357.90,72.90 358.74,73.05 359.51,73.26 360.26,73.53 361.01,73.88 361.81,74.30 362.70,74.80 363.68,75.39 364.74,76.07 365.84,76.82 366.97,77.63 368.10,78.50 369.20,79.40 370.28,80.36 371.37,81.40 372.45,82.48 373.53,83.59 374.62,84.71 375.70,85.80 376.79,86.88 377.89,87.97 378.99,89.06 380.09,90.14 381.16,91.23 382.20,92.30 383.23,93.39 384.25,94.52 385.26,95.64 386.23,96.71 387.15,97.71 388.00,98.60 388.73,99.31 389.34,99.86 389.90,100.33 390.48,100.80 391.16,101.36 392.00,102.10 392.99,103.00 394.07,104.01 395.24,105.11 396.52,106.28 397.90,107.51 399.40,108.80 401.13,110.23 403.11,111.84 405.19,113.52 407.25,115.14 409.13,116.61 410.70,117.80 411.91,118.80 412.88,119.72 413.67,120.48 414.37,121.00 415.05,121.20 415.80,121.00 416.62,120.29 417.44,119.11 418.24,117.62 419.02,115.95 419.74,114.26 420.40,112.70 420.98,111.26 421.49,109.81 421.94,108.34 422.37,106.83 422.78,105.25 423.20,103.60 423.59,102.04 423.93,100.63 424.26,99.15 424.61,97.41 425.01,95.19 425.50,92.30 426.12,88.40 426.86,83.60 427.65,78.32 428.43,73.00 429.13,68.09 429.70,64.00 430.10,60.85 430.37,58.31 430.57,56.17 430.74,54.21 430.93,52.23 431.20,50.00 431.53,47.50 431.90,44.89 432.29,42.25 432.69,39.67 433.10,37.22 433.50,35.00 433.90,33.00 434.30,31.15 434.71,29.44 435.12,27.85 435.55,26.38 436.00,25.00 436.47,23.72 436.96,22.53 437.47,21.46 437.98,20.51 438.49,19.69 439.00,19.00 439.49,18.46 439.98,18.07 440.47,17.81 440.96,17.65 441.47,17.59 442.00,17.60 442.58,17.74 443.20,18.02 443.84,18.40 444.46,18.81 445.03,19.20 445.50,19.50 445.87,19.72 446.15,19.90 446.38,20.06 446.57,20.20 446.77,20.34 447.00,20.50" fill="none" stroke="#ed1c24" stroke-width="0.9" stroke-linejoin="round"/>
<path d="M256.50,102.60 256.86,103.04 257.23,103.70 257.58,104.49 257.93,105.28 258.28,106.07 258.64,106.84 259.00,107.33 259.37,107.82 259.76,108.29 260.16,108.73 260.59,109.41 261.05,110.11 261.53,110.81 262.05,111.28 262.59,111.49 263.14,111.66 263.72,112.02 264.29,112.57 264.87,113.11 265.44,113.48 266.01,113.81 266.59,114.13 267.17,114.49 267.76,114.85 268.35,115.18 268.94,115.47 269.51,115.77 270.08,116.28 270.62,116.99 271.10,117.71 271.53,118.29 271.94,118.59 272.32,118.92 272.72,119.22 273.18,119.64 273.77,120.53 274.45,121.36 275.10,120.85 275.66,120.06 276.16,119.29 276.61,118.85 277.01,118.38 277.38,117.88 277.73,117.35 278.06,116.64 278.37,115.88 278.66,115.13 278.95,114.39 279.22,113.65 279.48,112.98 279.73,112.48 279.97,111.97 280.20,111.44 280.43,110.90 280.64,110.34 280.86,109.78 281.05,109.15 281.25,108.38 281.43,107.63 281.61,106.88 281.78,106.13 281.95,105.38 282.12,104.64 282.28,103.90 282.45,103.16 282.61,102.42 282.77,101.78 282.93,101.15 283.10,100.51 283.27,99.88 283.44,99.25 283.58,98.60 283.72,97.94 283.84,97.28 283.96,96.61 284.07,95.94 284.19,95.27 284.29,94.56 284.39,93.84 284.50,93.12 284.60,92.40 284.70,91.69 284.80,90.97 284.89,90.26 284.99,89.54 285.09,88.83 285.18,88.11 285.28,87.40 285.37,86.68 285.47,85.97 285.56,85.25 285.66,84.54 285.75,83.83 285.85,83.13 285.94,82.46 286.04,81.79 286.13,81.12 286.23,80.45 286.32,79.78 286.42,79.12 286.52,78.45 286.61,77.78 286.71,77.11 286.81,76.44 286.91,75.78 287.01,75.11 287.11,74.44 287.21,73.78 287.31,73.11 287.40,72.44 287.50,71.72 287.60,71.00 287.70,70.28 287.80,69.57 287.90,68.85 288.00,68.13 288.10,67.41 288.20,66.69 288.30,65.97 288.40,65.26 288.50,64.54 288.60,63.82 288.70,63.10 288.80,62.38 288.91,61.66 289.01,60.95 289.11,60.27 289.21,59.60 289.31,58.93 289.42,58.25 289.52,57.58 289.63,56.91 289.73,56.24 289.84,55.57 289.95,54.90 290.06,54.23 290.17,53.56 290.28,52.89 290.39,52.22 290.51,51.56 290.63,50.88 290.75,50.15 290.87,49.43 291.00,48.69 291.13,47.96 291.26,47.22 291.40,46.48 291.54,45.75 291.68,45.00 291.83,44.26 291.98,43.52 292.13,42.77 292.28,42.08 292.43,41.45 292.57,40.82 292.72,40.18 292.86,39.54 293.00,38.90 293.13,38.26 293.27,37.61 293.40,36.97 293.54,36.32 293.68,35.68 293.81,35.03 293.96,34.30 294.10,33.57 294.25,32.83 294.40,32.10 294.57,31.36 294.73,30.62 294.90,29.88 295.06,29.14 295.24,28.40 295.41,27.66 295.58,27.03 295.76,26.41 295.94,25.79 296.13,25.18 296.32,24.58 296.52,23.98 296.74,23.39 296.96,22.83 297.21,22.14 297.50,21.44 297.83,20.72 298.24,20.01 298.73,19.43 299.29,19.28 299.88,19.20 300.48,18.82 301.12,18.07 301.78,17.33 302.47,17.59 303.17,18.04 303.85,18.25 304.49,18.39 305.09,18.69 305.65,19.25 306.17,19.83 306.66,20.40 307.11,20.79 307.54,21.22 307.95,21.67 308.34,22.22 308.73,22.89 309.11,23.57 309.49,24.24 309.88,24.87 310.26,25.28 310.63,25.70 311.01,26.14 311.37,26.57 311.74,27.37 312.10,28.19 312.45,29.01 312.81,29.83 313.17,30.46 313.53,30.87 313.89,31.27 314.25,31.68 314.60,32.09 314.95,32.82 315.29,33.55 315.63,34.28 315.95,35.01 316.27,35.70 316.57,36.24 316.87,36.80 317.16,37.36 317.44,37.93 317.72,38.50 318.00,39.17 318.28,39.88 318.56,40.59 318.85,41.30 319.15,42.01 319.45,42.69 319.75,43.22 320.06,43.75 320.39,44.27 320.71,44.79 321.04,45.32 321.37,46.04 321.70,46.76 322.03,47.48 322.37,48.20 322.71,48.87 323.04,49.45 323.39,50.02 323.73,50.59 324.07,51.16 324.42,51.81 324.77,52.50 325.12,53.20 325.48,53.90 325.83,54.57 326.19,55.04 326.56,55.50 326.93,55.96 327.30,56.41 327.68,57.00 328.06,57.66 328.44,58.31 328.84,58.95 329.23,59.50 329.64,59.97 330.05,60.43 330.46,60.88 330.88,61.56 331.30,62.36 331.72,63.15 332.15,63.95 332.58,64.31 333.02,64.59 333.46,64.87 333.92,65.27 334.38,66.10 334.86,66.94 335.37,67.79 335.88,67.97 336.42,68.04 336.98,68.08 337.54,68.80 338.14,69.54 338.76,70.07 339.41,69.91 340.08,69.62 340.78,70.09 341.48,70.63 342.16,70.46 342.84,69.75 343.50,69.18 344.15,69.37 344.80,69.55 345.45,69.27 346.11,68.82 346.78,68.49 347.44,68.45 348.10,68.39 348.76,67.98 349.42,67.50 350.08,67.18 350.74,67.08 351.41,66.99 352.09,66.35 352.78,65.72 353.48,65.86 354.18,66.48 354.87,66.83 355.55,66.68 356.22,66.59 356.89,67.34 357.55,68.10 358.20,68.23 358.86,68.00 359.51,67.93 360.16,68.62 360.80,69.33 361.45,69.46 362.10,69.34 362.75,69.40 363.40,70.09 364.04,70.79 364.66,70.85 365.27,70.74 365.85,70.77 366.40,71.44 366.94,72.11 367.47,72.72 367.97,72.87 368.47,73.05 368.95,73.26 369.43,73.99 369.90,74.76 370.36,75.54 370.82,76.11 371.26,76.50 371.70,76.90 372.11,77.33 372.52,78.04 372.92,78.82 373.33,79.59 373.73,80.37 374.13,80.88 374.54,81.33 374.96,81.76 375.39,82.17 375.84,82.72 376.30,83.26 376.78,83.80 377.27,84.28 377.77,84.71 378.27,85.14 378.78,85.67 379.29,86.39 379.80,87.11 380.30,87.70 380.80,87.76 381.30,87.83 381.79,87.91 382.29,88.78 382.78,89.66 383.28,90.55 383.78,90.84 384.28,90.95 384.79,91.04 385.30,91.55 385.84,92.38 386.42,93.21 387.05,93.52 387.63,93.71 388.13,94.04 388.61,94.58 389.07,95.15 389.51,95.73 389.94,96.27 390.38,96.73 390.80,97.20 391.22,97.67 391.64,98.24 392.04,98.87 392.45,99.50 392.83,100.14 393.22,100.71 393.60,101.23 393.98,101.75 394.37,102.26 394.77,102.89 395.17,103.71 395.60,104.53 396.04,105.36 396.52,105.78 397.01,105.95 397.51,106.07 398.04,106.46 398.58,107.21 399.12,107.96 399.67,108.41 400.22,108.56 400.76,108.71 401.31,109.17 401.87,109.86 402.44,110.55 403.00,110.88 403.57,111.06 404.13,111.25 404.69,111.87 405.24,112.55 405.78,113.23 406.32,113.54 406.85,113.83 407.38,114.12 407.92,114.72 408.45,115.34 408.98,115.95 409.51,116.13 410.03,116.31 410.54,116.51 411.04,117.33 411.53,118.23 412.03,119.13 412.54,119.51 413.05,119.62 413.60,119.65 414.17,119.93 414.82,120.27 415.49,120.26 415.99,119.72 416.33,119.08 416.62,118.40 416.90,117.72 417.17,117.13 417.43,116.58 417.66,116.00 417.87,115.41 418.08,114.80 418.28,114.19 418.47,113.58 418.67,112.93 418.86,112.20 419.05,111.48 419.25,110.75 419.44,110.03 419.63,109.30 419.82,108.58 420.01,107.86 420.20,107.13 420.38,106.52 420.56,105.91 420.75,105.30 420.93,104.68 421.11,104.07 421.29,103.46 421.48,102.85 421.66,102.24 421.85,101.59 422.03,100.84 422.22,100.08 422.40,99.33 422.59,98.58 422.77,97.82 422.95,97.06 423.17,96.27 423.47,95.51 423.79,95.03 424.02,94.47 424.18,93.84 424.33,93.20 424.47,92.55 424.59,91.88 424.71,91.21 424.82,90.54 424.93,89.87 425.03,89.17 425.13,88.46 425.22,87.74 425.32,87.02 425.42,86.30 425.52,85.59 425.61,84.87 425.70,84.16 425.79,83.44 425.88,82.73 425.97,82.01 426.06,81.30 426.15,80.58 426.23,79.86 426.32,79.15 426.41,78.44 426.50,77.72 426.59,77.01 426.67,76.33 426.76,75.65 426.85,74.98 426.93,74.30 427.02,73.62 427.11,72.95 427.19,72.27 427.28,71.60 427.37,70.92 427.45,70.24 427.54,69.57 427.62,68.89 427.71,68.22 427.80,67.54 427.88,66.86 427.97,66.19 428.06,65.51 428.14,64.84 428.23,64.15 428.32,63.45 428.41,62.75 428.49,62.05 428.58,61.35 428.67,60.64 428.76,59.94 428.85,59.24 428.94,58.54 429.03,57.84 429.12,57.14 429.21,56.44 429.31,55.73 429.40,55.03 429.50,54.33 429.60,53.63 429.70,52.93 429.81,52.23 429.92,51.55 430.04,50.87 430.16,50.19 430.31,49.53 430.48,48.87 430.66,48.21 430.81,47.54 430.95,46.86 431.08,46.18 431.20,45.50 431.33,44.82 431.45,44.13 431.57,43.42 431.69,42.71 431.81,42.00 431.93,41.29 432.05,40.59 432.17,39.88 432.29,39.17 432.41,38.46 432.54,37.75 432.67,37.04 432.80,36.34 432.93,35.62 433.07,34.94 433.22,34.28 433.37,33.63 433.53,32.98 433.70,32.34 433.87,31.70 434.06,31.08 434.25,30.45 434.46,29.84 434.66,29.19 434.88,28.46 435.11,27.71 435.34,26.97 435.58,26.22 435.82,25.47 436.06,24.73 436.31,24.04 436.56,23.45 436.83,22.87 437.10,22.30 437.40,21.75 437.73,21.24 438.10,20.58 438.51,19.89 438.96,19.20 439.44,18.55 439.97,18.33 440.54,18.20 441.17,18.01 441.85,17.32 442.51,17.05 443.09,17.88 443.64,18.83 444.18,19.74 444.67,19.86 445.12,20.05 445.67,19.91 446.35,20.05 447.00,20.21" fill="none" stroke="#000" stroke-width="1.15" stroke-linejoin="round"/>
<rect x="489.5" y="17.5" width="191.0" height="104.0" fill="none" stroke="#c8c8c8" stroke-width="1"/>
<line x1="487.0" y1="121.5" x2="489.5" y2="121.5" stroke="#c8c8c8" stroke-width="1"/>
<text x="486.3" y="124.1" text-anchor="end" class="tk">0</text>
<line x1="487.0" y1="100.7" x2="489.5" y2="100.7" stroke="#c8c8c8" stroke-width="1"/>
<text x="486.3" y="103.3" text-anchor="end" class="tk">0,2</text>
<line x1="487.0" y1="79.9" x2="489.5" y2="79.9" stroke="#c8c8c8" stroke-width="1"/>
<text x="486.3" y="82.5" text-anchor="end" class="tk">0,4</text>
<line x1="487.0" y1="59.1" x2="489.5" y2="59.1" stroke="#c8c8c8" stroke-width="1"/>
<text x="486.3" y="61.7" text-anchor="end" class="tk">0,6</text>
<line x1="487.0" y1="38.3" x2="489.5" y2="38.3" stroke="#c8c8c8" stroke-width="1"/>
<text x="486.3" y="40.9" text-anchor="end" class="tk">0,8</text>
<line x1="487.0" y1="17.5" x2="489.5" y2="17.5" stroke="#c8c8c8" stroke-width="1"/>
<text x="486.3" y="20.1" text-anchor="end" class="tk">1</text>
<line x1="489.5" y1="121.5" x2="489.5" y2="124.0" stroke="#c8c8c8" stroke-width="1"/>
<text x="489.5" y="130.8" text-anchor="middle" class="tk">22</text>
<line x1="680.5" y1="121.5" x2="680.5" y2="124.0" stroke="#c8c8c8" stroke-width="1"/>
<text x="680.0" y="130.8" text-anchor="middle" class="tk">23</text>
<text x="582.7" y="139.6" text-anchor="middle" class="al">Time, s</text>
<text transform="translate(474.2,69.8) rotate(-90)" text-anchor="middle" class="al">Amplitude, rel. units</text>
<text x="582.5" y="9.5" text-anchor="middle" class="ti">Elliptic</text>
<path d="M489.50,107.20 490.21,107.66 490.91,108.13 491.61,108.59 492.32,109.05 493.05,109.52 493.80,110.00 494.58,110.50 495.39,111.02 496.21,111.55 497.04,112.07 497.88,112.56 498.70,113.00 499.52,113.38 500.34,113.69 501.16,113.98 501.97,114.27 502.79,114.60 503.60,115.00 504.43,115.50 505.27,116.09 506.11,116.71 506.93,117.33 507.70,117.90 508.40,118.40 509.02,118.82 509.57,119.19 510.07,119.52 510.55,119.81 511.02,120.07 511.50,120.30 511.99,120.51 512.46,120.70 512.92,120.86 513.39,120.97 513.84,121.02 514.30,121.00 514.75,120.92 515.19,120.79 515.63,120.61 516.07,120.34 516.53,119.98 517.00,119.50 517.48,118.94 517.97,118.30 518.48,117.58 518.99,116.72 519.53,115.70 520.10,114.50 520.73,113.02 521.43,111.29 522.15,109.39 522.85,107.44 523.48,105.54 524.00,103.80 524.37,102.35 524.62,101.14 524.81,99.98 524.98,98.69 525.19,97.09 525.50,95.00 525.91,92.33 526.39,89.20 526.91,85.76 527.44,82.16 527.98,78.52 528.50,75.00 529.01,71.48 529.54,67.81 530.06,64.12 530.57,60.52 531.06,57.11 531.50,54.00 531.89,51.22 532.24,48.67 532.56,46.31 532.87,44.11 533.18,42.02 533.50,40.00 533.83,38.06 534.17,36.24 534.50,34.53 534.83,32.93 535.17,31.42 535.50,30.00 535.83,28.69 536.15,27.51 536.47,26.42 536.80,25.40 537.14,24.44 537.50,23.50 537.89,22.57 538.30,21.66 538.73,20.81 539.16,20.03 539.58,19.35 540.00,18.80 540.41,18.38 540.81,18.07 541.21,17.87 541.60,17.76 542.00,17.74 542.40,17.80 542.80,17.95 543.21,18.19 543.62,18.53 544.03,18.94 544.42,19.43 544.80,20.00 545.14,20.64 545.44,21.35 545.73,22.14 546.04,23.01 546.38,23.96 546.80,25.00 547.31,26.19 547.89,27.54 548.51,28.97 549.14,30.41 549.75,31.78 550.30,33.00 550.79,34.04 551.24,34.94 551.67,35.78 552.10,36.61 552.54,37.50 553.00,38.50 553.48,39.59 553.96,40.72 554.44,41.91 554.96,43.17 555.50,44.52 556.10,46.00 556.78,47.68 557.53,49.56 558.31,51.53 559.10,53.50 559.84,55.36 560.50,57.00 561.06,58.38 561.54,59.57 561.99,60.65 562.42,61.70 562.88,62.79 563.40,64.00 563.98,65.33 564.59,66.71 565.23,68.13 565.88,69.59 566.54,71.08 567.20,72.60 567.87,74.20 568.54,75.90 569.23,77.63 569.92,79.32 570.61,80.90 571.30,82.30 571.98,83.52 572.64,84.61 573.31,85.60 573.98,86.49 574.68,87.28 575.40,88.00 576.15,88.64 576.91,89.18 577.70,89.63 578.51,90.00 579.34,90.29 580.20,90.50 581.11,90.61 582.06,90.61 583.04,90.54 584.03,90.41 584.99,90.25 585.90,90.10 586.80,89.93 587.71,89.70 588.60,89.46 589.43,89.21 590.18,88.98 590.80,88.80 591.21,88.70 591.43,88.68 591.55,88.67 591.70,88.64 591.98,88.54 592.50,88.30 593.32,87.84 594.37,87.19 595.55,86.46 596.77,85.77 597.95,85.25 599.00,85.00 599.89,85.05 600.69,85.32 601.45,85.74 602.21,86.28 603.01,86.88 603.90,87.50 604.89,88.16 605.95,88.91 607.06,89.73 608.18,90.59 609.30,91.45 610.40,92.30 611.50,93.15 612.62,94.03 613.74,94.92 614.83,95.81 615.86,96.67 616.80,97.50 617.61,98.26 618.31,98.98 618.94,99.67 619.57,100.37 620.24,101.10 621.00,101.90 621.86,102.79 622.79,103.77 623.76,104.78 624.74,105.78 625.73,106.73 626.70,107.60 627.65,108.38 628.60,109.10 629.56,109.78 630.51,110.42 631.46,111.02 632.40,111.60 633.34,112.13 634.27,112.60 635.20,113.04 636.13,113.47 637.06,113.91 638.00,114.40 638.95,114.95 639.93,115.53 640.90,116.14 641.86,116.73 642.80,117.30 643.70,117.80 644.54,118.25 645.34,118.67 646.11,119.05 646.88,119.40 647.67,119.72 648.50,120.00 649.39,120.28 650.34,120.56 651.31,120.80 652.26,120.98 653.17,121.06 654.00,121.00 654.75,120.80 655.46,120.47 656.11,120.04 656.73,119.54 657.33,118.98 657.90,118.40 658.44,117.85 658.95,117.31 659.42,116.73 659.89,116.02 660.34,115.10 660.80,113.90 661.26,112.44 661.70,110.78 662.14,108.92 662.59,106.84 663.03,104.54 663.50,102.00 663.98,99.11 664.47,95.86 664.97,92.38 665.47,88.82 665.98,85.31 666.50,82.00 667.04,78.81 667.60,75.63 668.17,72.50 668.73,69.48 669.25,66.63 669.70,64.00 670.09,61.65 670.42,59.56 670.71,57.62 670.98,55.78 671.24,53.93 671.50,52.00 671.73,49.99 671.93,47.98 672.11,45.96 672.31,43.96 672.56,41.97 672.90,40.00 673.34,38.03 673.86,36.03 674.44,34.06 675.04,32.13 675.63,30.30 676.20,28.60 676.77,26.97 677.37,25.37 677.97,23.87 678.53,22.51 679.02,21.37 679.40,20.50 679.65,19.98 679.79,19.77 679.86,19.77 679.90,19.89 679.93,20.00 680.00,20.00" fill="none" stroke="#0a6ef0" stroke-width="0.9" stroke-linejoin="round"/>
<path d="M489.50,107.70 490.22,108.17 490.95,108.64 491.68,109.12 492.40,109.59 493.11,110.05 493.80,110.50 494.48,110.93 495.15,111.36 495.81,111.77 496.46,112.18 497.09,112.59 497.70,113.00 498.28,113.42 498.83,113.84 499.37,114.26 499.90,114.67 500.44,115.09 501.00,115.50 501.59,115.91 502.20,116.32 502.82,116.72 503.44,117.13 504.04,117.52 504.60,117.90 505.12,118.28 505.60,118.66 506.06,119.04 506.52,119.39 507.00,119.72 507.50,120.00 508.05,120.26 508.63,120.51 509.22,120.72 509.81,120.89 510.37,120.99 510.90,121.00 511.38,120.92 511.82,120.76 512.24,120.54 512.66,120.25 513.07,119.90 513.50,119.50 513.93,119.11 514.35,118.74 514.77,118.31 515.21,117.74 515.68,116.96 516.20,115.90 516.80,114.46 517.48,112.67 518.19,110.68 518.90,108.60 519.55,106.57 520.10,104.70 520.53,103.12 520.87,101.74 521.16,100.40 521.44,98.94 521.74,97.20 522.10,95.00 522.53,92.27 522.99,89.13 523.48,85.71 523.99,82.12 524.49,78.51 525.00,75.00 525.51,71.54 526.03,68.01 526.55,64.45 527.07,60.90 527.59,57.41 528.10,54.00 528.60,50.59 529.09,47.14 529.58,43.74 530.06,40.48 530.54,37.47 531.00,34.80 531.45,32.50 531.89,30.49 532.32,28.72 532.74,27.16 533.17,25.73 533.60,24.40 534.03,23.19 534.47,22.14 534.90,21.23 535.33,20.45 535.77,19.78 536.20,19.20 536.63,18.72 537.06,18.35 537.49,18.09 537.93,17.94 538.36,17.87 538.80,17.90 539.25,18.02 539.71,18.24 540.18,18.56 540.64,18.96 541.08,19.44 541.50,20.00 541.88,20.68 542.23,21.49 542.57,22.38 542.90,23.30 543.24,24.19 543.60,25.00 543.97,25.70 544.34,26.31 544.71,26.91 545.11,27.52 545.53,28.20 546.00,29.00 546.50,29.90 547.03,30.87 547.59,31.91 548.19,33.02 548.82,34.21 549.50,35.50 550.26,36.93 551.10,38.50 551.98,40.16 552.85,41.83 553.67,43.47 554.40,45.00 555.02,46.42 555.56,47.77 556.06,49.08 556.53,50.37 557.00,51.67 557.50,53.00 558.01,54.33 558.50,55.63 558.99,56.94 559.50,58.28 560.07,59.69 560.70,61.20 561.42,62.87 562.21,64.68 563.04,66.56 563.90,68.42 564.76,70.20 565.60,71.80 566.42,73.24 567.23,74.57 568.05,75.81 568.87,76.97 569.68,78.06 570.50,79.10 571.32,80.09 572.14,81.03 572.96,81.91 573.77,82.70 574.59,83.40 575.40,84.00 576.20,84.49 576.97,84.90 577.75,85.21 578.54,85.43 579.35,85.56 580.20,85.60 581.12,85.53 582.09,85.33 583.09,85.04 584.08,84.70 585.03,84.34 585.90,84.00 586.69,83.66 587.42,83.29 588.11,82.90 588.77,82.51 589.43,82.14 590.10,81.80 590.77,81.46 591.41,81.10 592.06,80.76 592.71,80.47 593.38,80.27 594.10,80.20 594.86,80.26 595.67,80.44 596.49,80.70 597.33,81.03 598.17,81.40 599.00,81.80 599.80,82.21 600.57,82.66 601.35,83.14 602.15,83.69 602.99,84.30 603.90,85.00 604.89,85.81 605.95,86.71 607.06,87.69 608.18,88.71 609.30,89.72 610.40,90.70 611.50,91.67 612.62,92.66 613.74,93.65 614.83,94.62 615.86,95.54 616.80,96.40 617.61,97.17 618.31,97.86 618.94,98.51 619.57,99.14 620.24,99.79 621.00,100.50 621.86,101.27 622.79,102.08 623.76,102.91 624.74,103.73 625.73,104.54 626.70,105.30 627.65,106.01 628.60,106.69 629.56,107.35 630.51,108.00 631.46,108.64 632.40,109.30 633.34,109.96 634.27,110.61 635.20,111.27 636.13,111.93 637.06,112.60 638.00,113.30 638.92,114.04 639.81,114.81 640.70,115.60 641.63,116.38 642.62,117.12 643.70,117.80 644.94,118.48 646.33,119.18 647.77,119.84 649.21,120.41 650.54,120.82 651.70,121.00 652.67,120.95 653.52,120.72 654.27,120.33 654.95,119.79 655.58,119.14 656.20,118.40 656.79,117.51 657.32,116.44 657.81,115.26 658.27,114.02 658.69,112.78 659.10,111.60 659.46,110.67 659.75,110.00 660.01,109.32 660.29,108.40 660.60,106.97 661.00,104.80 661.51,101.61 662.11,97.54 662.75,92.98 663.39,88.28 663.99,83.83 664.50,80.00 664.91,76.80 665.26,73.94 665.57,71.33 665.85,68.86 666.12,66.45 666.40,64.00 666.68,61.52 666.95,59.10 667.21,56.73 667.47,54.41 667.73,52.17 668.00,50.00 668.26,47.93 668.50,45.95 668.75,44.04 669.02,42.16 669.33,40.29 669.70,38.40 670.15,36.44 670.65,34.43 671.20,32.43 671.77,30.49 672.34,28.66 672.90,27.00 673.45,25.48 674.03,24.06 674.60,22.75 675.16,21.57 675.70,20.55 676.20,19.70 676.66,19.05 677.10,18.60 677.52,18.31 677.91,18.12 678.27,18.00 678.60,17.90 678.89,17.86 679.14,17.92 679.36,18.05 679.57,18.21 679.78,18.37 680.00,18.50" fill="none" stroke="#0a780a" stroke-width="0.9" stroke-linejoin="round"/>
<path d="M489.50,106.50 490.18,107.18 490.89,107.87 491.59,108.56 492.28,109.24 492.92,109.89 493.50,110.50 494.00,111.06 494.44,111.58 494.83,112.07 495.21,112.54 495.59,113.02 496.00,113.50 496.44,114.02 496.88,114.56 497.33,115.10 497.79,115.61 498.24,116.05 498.70,116.40 499.16,116.62 499.61,116.72 500.07,116.76 500.54,116.78 501.01,116.85 501.50,117.00 502.00,117.25 502.52,117.56 503.04,117.91 503.57,118.28 504.09,118.65 504.60,119.00 505.09,119.37 505.58,119.80 506.06,120.22 506.53,120.59 507.01,120.87 507.50,121.00 507.99,121.03 508.49,121.02 508.99,120.91 509.50,120.65 510.00,120.20 510.50,119.50 511.01,118.49 511.54,117.20 512.06,115.72 512.57,114.13 513.06,112.53 513.50,111.00 513.89,109.51 514.25,107.96 514.58,106.41 514.89,104.87 515.20,103.39 515.50,102.00 515.79,100.87 516.05,100.00 516.30,99.19 516.56,98.22 516.86,96.90 517.20,95.00 517.60,92.45 518.04,89.41 518.51,86.00 519.00,82.37 519.50,78.66 520.00,75.00 520.52,71.21 521.07,67.15 521.62,63.00 522.18,58.96 522.71,55.23 523.20,52.00 523.65,49.33 524.07,47.09 524.48,45.16 524.86,43.41 525.23,41.73 525.60,40.00 525.96,38.25 526.30,36.57 526.63,34.97 526.96,33.43 527.28,31.94 527.60,30.50 527.92,29.10 528.23,27.73 528.54,26.42 528.86,25.18 529.17,24.04 529.50,23.00 529.83,22.07 530.17,21.23 530.51,20.49 530.86,19.83 531.22,19.27 531.60,18.80 532.00,18.43 532.42,18.15 532.86,17.97 533.30,17.87 533.75,17.85 534.20,17.90 534.65,18.02 535.11,18.20 535.57,18.47 536.04,18.82 536.51,19.26 537.00,19.80 537.51,20.50 538.04,21.35 538.58,22.30 539.11,23.27 539.62,24.19 540.10,25.00 540.53,25.66 540.93,26.22 541.31,26.73 541.69,27.25 542.08,27.82 542.50,28.50 542.97,29.32 543.47,30.26 543.98,31.25 544.49,32.24 544.97,33.18 545.40,34.00 545.75,34.63 546.01,35.10 546.26,35.51 546.52,35.97 546.85,36.60 547.30,37.50 547.89,38.71 548.58,40.16 549.34,41.77 550.14,43.48 550.94,45.21 551.70,46.90 552.43,48.58 553.17,50.30 553.90,52.06 554.63,53.81 555.37,55.53 556.10,57.20 556.86,58.88 557.64,60.61 558.42,62.31 559.17,63.90 559.88,65.33 560.50,66.50 561.01,67.35 561.41,67.93 561.76,68.34 562.11,68.67 562.51,69.02 563.00,69.50 563.58,70.10 564.22,70.76 564.90,71.43 565.63,72.11 566.39,72.77 567.20,73.40 568.06,74.04 568.99,74.73 569.96,75.40 570.94,75.99 571.93,76.45 572.90,76.70 573.84,76.72 574.77,76.54 575.70,76.22 576.64,75.83 577.60,75.40 578.60,75.00 579.65,74.57 580.74,74.06 581.85,73.53 582.96,73.01 584.05,72.59 585.10,72.30 586.11,72.16 587.09,72.12 588.05,72.16 588.99,72.27 589.91,72.42 590.80,72.60 591.64,72.80 592.43,73.04 593.20,73.32 593.98,73.65 594.80,74.04 595.70,74.50 596.69,75.02 597.75,75.59 598.85,76.21 599.97,76.90 601.10,77.66 602.20,78.50 603.28,79.44 604.37,80.48 605.45,81.59 606.53,82.74 607.62,83.89 608.70,85.00 609.79,86.08 610.89,87.15 611.99,88.22 613.09,89.30 614.16,90.39 615.20,91.50 616.21,92.66 617.19,93.87 618.15,95.09 619.10,96.29 620.05,97.44 621.00,98.50 621.96,99.47 622.91,100.36 623.86,101.20 624.80,102.01 625.75,102.80 626.70,103.60 627.65,104.40 628.60,105.17 629.56,105.94 630.51,106.69 631.46,107.44 632.40,108.20 633.34,108.95 634.27,109.70 635.20,110.45 636.13,111.20 637.06,111.95 638.00,112.70 638.96,113.47 639.93,114.26 640.91,115.05 641.88,115.83 642.81,116.58 643.70,117.30 644.53,118.13 645.32,119.13 646.08,120.09 646.81,120.85 647.55,121.22 648.30,121.00 649.08,120.04 649.89,118.46 650.69,116.48 651.47,114.34 652.18,112.27 652.80,110.50 653.31,109.03 653.73,107.69 654.09,106.41 654.41,105.16 654.74,103.87 655.10,102.50 655.46,101.33 655.78,100.45 656.11,99.54 656.46,98.27 656.88,96.34 657.40,93.40 658.06,89.03 658.84,83.39 659.69,77.07 660.54,70.67 661.33,64.78 662.00,60.00 662.54,56.41 662.98,53.57 663.37,51.23 663.73,49.18 664.10,47.18 664.50,45.00 664.94,42.65 665.40,40.32 665.86,38.04 666.32,35.85 666.77,33.79 667.20,31.90 667.60,30.19 667.99,28.64 668.36,27.22 668.73,25.90 669.10,24.67 669.50,23.50 669.91,22.36 670.31,21.26 670.73,20.25 671.16,19.36 671.62,18.63 672.10,18.10 672.61,17.78 673.16,17.66 673.72,17.69 674.30,17.86 674.90,18.13 675.50,18.50 676.16,19.05 676.89,19.81 677.62,20.69 678.33,21.57 678.94,22.34 679.40,22.90 679.69,23.22 679.84,23.38 679.91,23.44 679.92,23.44 679.94,23.44 680.00,23.50" fill="none" stroke="#ed1c24" stroke-width="0.9" stroke-linejoin="round"/>
<path d="M489.50,102.60 489.86,103.04 490.23,103.70 490.58,104.49 490.93,105.28 491.28,106.07 491.64,106.84 492.00,107.33 492.37,107.82 492.76,108.29 493.16,108.73 493.59,109.41 494.05,110.11 494.53,110.81 495.05,111.28 495.59,111.49 496.14,111.66 496.72,112.02 497.29,112.57 497.87,113.11 498.44,113.48 499.01,113.81 499.59,114.13 500.17,114.49 500.76,114.85 501.35,115.18 501.94,115.47 502.51,115.77 503.08,116.28 503.62,116.99 504.10,117.71 504.53,118.29 504.94,118.59 505.32,118.92 505.72,119.22 506.18,119.64 506.77,120.53 507.45,121.36 508.10,120.85 508.66,120.06 509.16,119.29 509.61,118.85 510.01,118.38 510.38,117.88 510.73,117.35 511.06,116.64 511.37,115.88 511.66,115.13 511.95,114.39 512.22,113.65 512.48,112.98 512.73,112.48 512.97,111.97 513.20,111.44 513.43,110.90 513.64,110.34 513.86,109.78 514.05,109.15 514.25,108.38 514.43,107.63 514.61,106.88 514.78,106.13 514.95,105.38 515.12,104.64 515.28,103.90 515.45,103.16 515.61,102.42 515.77,101.78 515.93,101.15 516.10,100.51 516.27,99.88 516.44,99.25 516.58,98.60 516.72,97.94 516.84,97.28 516.96,96.61 517.07,95.94 517.19,95.27 517.29,94.56 517.39,93.84 517.50,93.12 517.60,92.40 517.70,91.69 517.80,90.97 517.89,90.26 517.99,89.54 518.09,88.83 518.18,88.11 518.28,87.40 518.37,86.68 518.47,85.97 518.56,85.25 518.66,84.54 518.75,83.83 518.85,83.13 518.94,82.46 519.04,81.79 519.13,81.12 519.23,80.45 519.32,79.78 519.42,79.12 519.52,78.45 519.61,77.78 519.71,77.11 519.81,76.44 519.91,75.78 520.01,75.11 520.11,74.44 520.21,73.78 520.31,73.11 520.40,72.44 520.50,71.72 520.60,71.00 520.70,70.28 520.80,69.57 520.90,68.85 521.00,68.13 521.10,67.41 521.20,66.69 521.30,65.97 521.40,65.26 521.50,64.54 521.60,63.82 521.70,63.10 521.80,62.38 521.91,61.66 522.01,60.95 522.11,60.27 522.21,59.60 522.31,58.93 522.42,58.25 522.52,57.58 522.63,56.91 522.73,56.24 522.84,55.57 522.95,54.90 523.06,54.23 523.17,53.56 523.28,52.89 523.39,52.22 523.51,51.56 523.63,50.88 523.75,50.15 523.87,49.43 524.00,48.69 524.13,47.96 524.26,47.22 524.40,46.48 524.54,45.75 524.68,45.00 524.83,44.26 524.98,43.52 525.13,42.77 525.28,42.08 525.43,41.45 525.57,40.82 525.72,40.18 525.86,39.54 526.00,38.90 526.13,38.26 526.27,37.61 526.40,36.97 526.54,36.32 526.68,35.68 526.81,35.03 526.96,34.30 527.10,33.57 527.25,32.83 527.40,32.10 527.57,31.36 527.73,30.62 527.90,29.88 528.06,29.14 528.24,28.40 528.41,27.66 528.58,27.03 528.76,26.41 528.94,25.79 529.13,25.18 529.32,24.58 529.52,23.98 529.74,23.39 529.96,22.83 530.21,22.14 530.50,21.44 530.83,20.72 531.24,20.01 531.73,19.43 532.29,19.28 532.88,19.20 533.48,18.82 534.12,18.07 534.78,17.33 535.47,17.59 536.17,18.04 536.85,18.25 537.49,18.39 538.09,18.69 538.65,19.25 539.17,19.83 539.66,20.40 540.11,20.79 540.54,21.22 540.95,21.67 541.34,22.22 541.73,22.89 542.11,23.57 542.49,24.24 542.88,24.87 543.26,25.28 543.63,25.70 544.01,26.14 544.37,26.57 544.74,27.37 545.10,28.19 545.45,29.01 545.81,29.83 546.17,30.46 546.53,30.87 546.89,31.27 547.25,31.68 547.60,32.09 547.95,32.82 548.29,33.55 548.63,34.28 548.95,35.01 549.27,35.70 549.57,36.24 549.87,36.80 550.16,37.36 550.44,37.93 550.72,38.50 551.00,39.17 551.28,39.88 551.56,40.59 551.85,41.30 552.15,42.01 552.45,42.69 552.75,43.22 553.06,43.75 553.39,44.27 553.71,44.79 554.04,45.32 554.37,46.04 554.70,46.76 555.03,47.48 555.37,48.20 555.71,48.87 556.04,49.45 556.39,50.02 556.73,50.59 557.07,51.16 557.42,51.81 557.77,52.50 558.12,53.20 558.48,53.90 558.83,54.57 559.19,55.04 559.56,55.50 559.93,55.96 560.30,56.41 560.68,57.00 561.06,57.66 561.44,58.31 561.84,58.95 562.23,59.50 562.64,59.97 563.05,60.43 563.46,60.88 563.88,61.56 564.30,62.36 564.72,63.15 565.15,63.95 565.58,64.31 566.02,64.59 566.46,64.87 566.92,65.27 567.38,66.10 567.86,66.94 568.37,67.79 568.88,67.97 569.42,68.04 569.98,68.08 570.54,68.80 571.14,69.54 571.76,70.07 572.41,69.91 573.08,69.62 573.78,70.09 574.48,70.63 575.16,70.46 575.84,69.75 576.50,69.18 577.15,69.37 577.80,69.55 578.45,69.27 579.11,68.82 579.78,68.49 580.44,68.45 581.10,68.39 581.76,67.98 582.42,67.50 583.08,67.18 583.74,67.08 584.41,66.99 585.09,66.35 585.78,65.72 586.48,65.86 587.18,66.48 587.87,66.83 588.55,66.68 589.22,66.59 589.89,67.34 590.55,68.10 591.20,68.23 591.86,68.00 592.51,67.93 593.16,68.62 593.80,69.33 594.45,69.46 595.10,69.34 595.75,69.40 596.40,70.09 597.04,70.79 597.66,70.85 598.27,70.74 598.85,70.77 599.40,71.44 599.94,72.11 600.47,72.72 600.97,72.87 601.47,73.05 601.95,73.26 602.43,73.99 602.90,74.76 603.36,75.54 603.82,76.11 604.26,76.50 604.70,76.90 605.11,77.33 605.52,78.04 605.92,78.82 606.33,79.59 606.73,80.37 607.13,80.88 607.54,81.33 607.96,81.76 608.39,82.17 608.84,82.72 609.30,83.26 609.78,83.80 610.27,84.28 610.77,84.71 611.27,85.14 611.78,85.67 612.29,86.39 612.80,87.11 613.30,87.70 613.80,87.76 614.30,87.83 614.79,87.91 615.29,88.78 615.78,89.66 616.28,90.55 616.78,90.84 617.28,90.95 617.79,91.04 618.30,91.55 618.84,92.38 619.42,93.21 620.05,93.52 620.63,93.71 621.13,94.04 621.61,94.58 622.07,95.15 622.51,95.73 622.94,96.27 623.38,96.73 623.80,97.20 624.22,97.67 624.64,98.24 625.04,98.87 625.45,99.50 625.83,100.14 626.22,100.71 626.60,101.23 626.98,101.75 627.37,102.26 627.77,102.89 628.17,103.71 628.60,104.53 629.04,105.36 629.52,105.78 630.01,105.95 630.51,106.07 631.04,106.46 631.58,107.21 632.12,107.96 632.67,108.41 633.22,108.56 633.76,108.71 634.31,109.17 634.87,109.86 635.44,110.55 636.00,110.88 636.57,111.06 637.13,111.25 637.69,111.87 638.24,112.55 638.78,113.23 639.32,113.54 639.85,113.83 640.38,114.12 640.92,114.72 641.45,115.34 641.98,115.95 642.51,116.13 643.03,116.31 643.54,116.51 644.04,117.33 644.53,118.23 645.03,119.13 645.54,119.51 646.05,119.62 646.60,119.65 647.17,119.93 647.82,120.27 648.49,120.26 648.99,119.72 649.33,119.08 649.62,118.40 649.90,117.72 650.17,117.13 650.43,116.58 650.66,116.00 650.87,115.41 651.08,114.80 651.28,114.19 651.47,113.58 651.67,112.93 651.86,112.20 652.05,111.48 652.25,110.75 652.44,110.03 652.63,109.30 652.82,108.58 653.01,107.86 653.20,107.13 653.38,106.52 653.56,105.91 653.75,105.30 653.93,104.68 654.11,104.07 654.29,103.46 654.48,102.85 654.66,102.24 654.85,101.59 655.03,100.84 655.22,100.08 655.40,99.33 655.59,98.58 655.77,97.82 655.95,97.06 656.17,96.27 656.47,95.51 656.79,95.03 657.02,94.47 657.18,93.84 657.33,93.20 657.47,92.55 657.59,91.88 657.71,91.21 657.82,90.54 657.93,89.87 658.03,89.17 658.13,88.46 658.22,87.74 658.32,87.02 658.42,86.30 658.52,85.59 658.61,84.87 658.70,84.16 658.79,83.44 658.88,82.73 658.97,82.01 659.06,81.30 659.15,80.58 659.23,79.86 659.32,79.15 659.41,78.44 659.50,77.72 659.59,77.01 659.67,76.33 659.76,75.65 659.85,74.98 659.93,74.30 660.02,73.62 660.11,72.95 660.19,72.27 660.28,71.60 660.37,70.92 660.45,70.24 660.54,69.57 660.62,68.89 660.71,68.22 660.80,67.54 660.88,66.86 660.97,66.19 661.06,65.51 661.14,64.84 661.23,64.15 661.32,63.45 661.41,62.75 661.49,62.05 661.58,61.35 661.67,60.64 661.76,59.94 661.85,59.24 661.94,58.54 662.03,57.84 662.12,57.14 662.21,56.44 662.31,55.73 662.40,55.03 662.50,54.33 662.60,53.63 662.70,52.93 662.81,52.23 662.92,51.55 663.04,50.87 663.16,50.19 663.31,49.53 663.48,48.87 663.66,48.21 663.81,47.54 663.95,46.86 664.08,46.18 664.20,45.50 664.33,44.82 664.45,44.13 664.57,43.42 664.69,42.71 664.81,42.00 664.93,41.29 665.05,40.59 665.17,39.88 665.29,39.17 665.41,38.46 665.54,37.75 665.67,37.04 665.80,36.34 665.93,35.62 666.07,34.94 666.22,34.28 666.37,33.63 666.53,32.98 666.70,32.34 666.87,31.70 667.06,31.08 667.25,30.45 667.46,29.84 667.66,29.19 667.88,28.46 668.11,27.71 668.34,26.97 668.58,26.22 668.82,25.47 669.06,24.73 669.31,24.04 669.56,23.45 669.83,22.87 670.10,22.30 670.40,21.75 670.73,21.24 671.10,20.58 671.51,19.89 671.96,19.20 672.44,18.55 672.97,18.33 673.54,18.20 674.17,18.01 674.85,17.32 675.51,17.05 676.09,17.88 676.64,18.83 677.18,19.74 677.67,19.86 678.12,20.05 678.67,19.91 679.35,20.05 680.00,20.21" fill="none" stroke="#000" stroke-width="1.15" stroke-linejoin="round"/>
<rect x="23.5" y="183.5" width="191.0" height="104.0" fill="none" stroke="#c8c8c8" stroke-width="1"/>
<line x1="21.0" y1="287.5" x2="23.5" y2="287.5" stroke="#c8c8c8" stroke-width="1"/>
<text x="20.3" y="290.1" text-anchor="end" class="tk">0</text>
<line x1="21.0" y1="266.7" x2="23.5" y2="266.7" stroke="#c8c8c8" stroke-width="1"/>
<text x="20.3" y="269.3" text-anchor="end" class="tk">0,2</text>
<line x1="21.0" y1="245.9" x2="23.5" y2="245.9" stroke="#c8c8c8" stroke-width="1"/>
<text x="20.3" y="248.5" text-anchor="end" class="tk">0,4</text>
<line x1="21.0" y1="225.1" x2="23.5" y2="225.1" stroke="#c8c8c8" stroke-width="1"/>
<text x="20.3" y="227.7" text-anchor="end" class="tk">0,6</text>
<line x1="21.0" y1="204.3" x2="23.5" y2="204.3" stroke="#c8c8c8" stroke-width="1"/>
<text x="20.3" y="206.9" text-anchor="end" class="tk">0,8</text>
<line x1="21.0" y1="183.5" x2="23.5" y2="183.5" stroke="#c8c8c8" stroke-width="1"/>
<text x="20.3" y="186.1" text-anchor="end" class="tk">1</text>
<line x1="23.5" y1="287.5" x2="23.5" y2="290.0" stroke="#c8c8c8" stroke-width="1"/>
<text x="23.5" y="296.8" text-anchor="middle" class="tk">22</text>
<line x1="214.5" y1="287.5" x2="214.5" y2="290.0" stroke="#c8c8c8" stroke-width="1"/>
<text x="214.0" y="296.8" text-anchor="middle" class="tk">23</text>
<text x="116.7" y="305.6" text-anchor="middle" class="al">Time, s</text>
<text transform="translate(8.2,235.8) rotate(-90)" text-anchor="middle" class="al">Amplitude, rel. units</text>
<text x="122.4" y="173.3" text-anchor="middle" class="ti">Chebyshev I</text>
<path d="M23.50,273.20 24.16,273.59 24.83,273.97 25.49,274.36 26.15,274.75 26.82,275.13 27.50,275.50 28.17,275.86 28.82,276.20 29.48,276.54 30.17,276.89 30.90,277.23 31.70,277.60 32.60,277.97 33.58,278.34 34.61,278.72 35.65,279.11 36.66,279.54 37.60,280.00 38.48,280.52 39.33,281.10 40.14,281.70 40.93,282.30 41.68,282.88 42.40,283.40 43.07,283.87 43.70,284.32 44.29,284.74 44.87,285.13 45.43,285.48 46.00,285.80 46.58,286.09 47.16,286.36 47.74,286.59 48.29,286.79 48.82,286.92 49.30,287.00 49.73,287.02 50.10,286.99 50.44,286.91 50.78,286.77 51.12,286.57 51.50,286.30 51.90,286.00 52.29,285.68 52.69,285.29 53.12,284.81 53.59,284.19 54.10,283.40 54.69,282.41 55.34,281.23 56.03,279.93 56.72,278.52 57.39,277.07 58.00,275.60 58.57,274.07 59.12,272.44 59.65,270.76 60.14,269.07 60.60,267.43 61.00,265.90 61.33,264.58 61.59,263.47 61.80,262.41 62.00,261.24 62.23,259.82 62.50,258.00 62.82,255.74 63.17,253.16 63.53,250.32 63.91,247.30 64.30,244.17 64.70,241.00 65.11,237.73 65.53,234.28 65.96,230.72 66.40,227.11 66.84,223.52 67.30,220.00 67.77,216.42 68.26,212.71 68.75,209.01 69.24,205.47 69.73,202.25 70.20,199.50 70.65,197.29 71.09,195.50 71.52,194.04 71.94,192.77 72.37,191.60 72.80,190.40 73.24,189.17 73.69,188.01 74.14,186.94 74.59,185.98 75.01,185.16 75.40,184.50 75.74,184.02 76.03,183.69 76.31,183.50 76.59,183.43 76.91,183.47 77.30,183.60 77.76,183.82 78.27,184.15 78.83,184.59 79.40,185.13 80.00,185.76 80.60,186.50 81.22,187.36 81.86,188.35 82.51,189.44 83.18,190.60 83.84,191.80 84.50,193.00 85.15,194.22 85.81,195.50 86.47,196.82 87.12,198.15 87.77,199.48 88.40,200.80 89.03,202.12 89.67,203.45 90.31,204.79 90.91,206.10 91.48,207.38 92.00,208.60 92.45,209.74 92.84,210.80 93.19,211.82 93.52,212.84 93.85,213.89 94.20,215.00 94.54,216.13 94.84,217.25 95.14,218.39 95.47,219.61 95.88,220.93 96.40,222.40 97.05,224.07 97.80,225.93 98.63,227.90 99.50,229.90 100.36,231.86 101.20,233.70 102.01,235.45 102.83,237.17 103.64,238.85 104.46,240.47 105.28,242.03 106.10,243.50 106.91,244.89 107.70,246.23 108.50,247.49 109.31,248.67 110.14,249.78 111.00,250.80 111.93,251.74 112.91,252.61 113.92,253.41 114.91,254.11 115.85,254.71 116.70,255.20 117.43,255.57 118.06,255.84 118.63,256.00 119.20,256.07 119.81,256.07 120.50,256.00 121.27,255.84 122.08,255.58 122.93,255.24 123.82,254.84 124.74,254.42 125.70,254.00 126.72,253.50 127.80,252.89 128.92,252.24 130.04,251.66 131.15,251.22 132.20,251.00 133.19,251.03 134.13,251.24 135.05,251.59 135.97,252.04 136.91,252.56 137.90,253.10 138.94,253.69 140.01,254.38 141.11,255.12 142.21,255.91 143.31,256.71 144.40,257.50 145.50,258.29 146.62,259.11 147.74,259.95 148.83,260.79 149.86,261.61 150.80,262.40 151.61,263.15 152.31,263.88 152.94,264.59 153.57,265.30 154.24,266.03 155.00,266.80 155.86,267.62 156.79,268.49 157.76,269.38 158.74,270.26 159.73,271.11 160.70,271.90 161.65,272.64 162.60,273.34 163.56,274.01 164.51,274.65 165.46,275.28 166.40,275.90 167.34,276.49 168.27,277.06 169.20,277.60 170.13,278.14 171.06,278.71 172.00,279.30 172.94,279.95 173.89,280.63 174.84,281.34 175.80,282.03 176.75,282.70 177.70,283.30 178.65,283.86 179.60,284.39 180.55,284.89 181.50,285.35 182.45,285.76 183.40,286.10 184.38,286.37 185.39,286.59 186.39,286.74 187.37,286.86 188.28,286.94 189.10,287.00 189.81,287.04 190.44,287.06 191.00,287.05 191.52,286.99 192.01,286.88 192.50,286.70 192.96,286.51 193.38,286.34 193.78,286.12 194.16,285.77 194.56,285.22 195.00,284.40 195.46,283.41 195.93,282.33 196.41,281.06 196.91,279.48 197.44,277.49 198.00,275.00 198.60,271.84 199.24,268.08 199.91,263.91 200.60,259.54 201.30,255.17 202.00,251.00 202.73,246.98 203.49,242.95 204.27,238.91 205.03,234.90 205.75,230.92 206.40,227.00 206.98,223.02 207.51,218.95 208.01,214.91 208.46,211.05 208.89,207.50 209.30,204.40 209.67,201.80 210.00,199.59 210.31,197.69 210.60,196.02 210.89,194.49 211.20,193.00 211.54,191.57 211.90,190.27 212.27,189.10 212.62,188.08 212.93,187.21 213.20,186.50 213.40,186.02 213.56,185.76 213.67,185.66 213.78,185.63 213.88,185.60 214.00,185.50" fill="none" stroke="#0a6ef0" stroke-width="0.9" stroke-linejoin="round"/>
<path d="M23.50,273.20 24.16,273.64 24.83,274.08 25.49,274.52 26.15,274.96 26.82,275.39 27.50,275.80 28.17,276.17 28.82,276.50 29.48,276.82 30.17,277.16 30.90,277.54 31.70,278.00 32.61,278.56 33.61,279.21 34.67,279.90 35.72,280.60 36.71,281.28 37.60,281.90 38.36,282.46 39.03,283.00 39.64,283.51 40.24,284.00 40.84,284.46 41.50,284.90 42.23,285.34 43.01,285.78 43.81,286.20 44.59,286.56 45.29,286.84 45.90,287.00 46.38,287.04 46.77,286.99 47.09,286.86 47.38,286.64 47.67,286.35 48.00,286.00 48.35,285.60 48.70,285.15 49.04,284.62 49.40,284.01 49.79,283.27 50.20,282.40 50.65,281.41 51.13,280.33 51.62,279.12 52.14,277.79 52.67,276.28 53.20,274.60 53.75,272.74 54.33,270.73 54.92,268.56 55.50,266.22 56.07,263.70 56.60,261.00 57.09,258.05 57.56,254.84 58.01,251.46 58.45,247.98 58.88,244.47 59.30,241.00 59.72,237.58 60.11,234.15 60.51,230.69 60.90,227.19 61.29,223.63 61.70,220.00 62.11,216.11 62.53,211.94 62.94,207.71 63.37,203.64 63.82,199.96 64.30,196.90 64.80,194.52 65.33,192.65 65.87,191.17 66.43,189.95 67.01,188.87 67.60,187.80 68.23,186.75 68.89,185.81 69.57,185.01 70.24,184.37 70.90,183.89 71.50,183.60 72.05,183.53 72.55,183.67 73.03,183.98 73.50,184.42 73.98,184.94 74.50,185.50 75.06,186.14 75.65,186.90 76.25,187.75 76.85,188.64 77.44,189.54 78.00,190.40 78.52,191.23 79.02,192.06 79.50,192.89 79.98,193.73 80.48,194.60 81.00,195.50 81.53,196.39 82.07,197.26 82.61,198.16 83.19,199.11 83.81,200.18 84.50,201.40 85.31,202.87 86.23,204.58 87.21,206.40 88.16,208.20 89.01,209.84 89.70,211.20 90.18,212.19 90.51,212.89 90.74,213.43 90.94,213.96 91.17,214.60 91.50,215.50 91.93,216.71 92.42,218.13 92.94,219.66 93.48,221.22 94.00,222.70 94.50,224.00 94.93,225.07 95.31,225.99 95.68,226.82 96.09,227.67 96.58,228.60 97.20,229.70 97.98,231.04 98.88,232.55 99.87,234.15 100.90,235.75 101.92,237.26 102.90,238.60 103.84,239.77 104.77,240.85 105.70,241.84 106.63,242.74 107.56,243.56 108.50,244.30 109.44,244.97 110.39,245.56 111.34,246.07 112.30,246.49 113.25,246.80 114.20,247.00 115.15,247.06 116.10,246.99 117.04,246.81 117.99,246.55 118.94,246.24 119.90,245.90 120.86,245.46 121.83,244.87 122.80,244.23 123.77,243.63 124.74,243.16 125.70,242.90 126.65,242.87 127.58,243.00 128.51,243.26 129.44,243.61 130.40,244.04 131.40,244.50 132.44,245.02 133.51,245.62 134.60,246.29 135.70,247.02 136.81,247.80 137.90,248.60 138.98,249.45 140.07,250.35 141.16,251.30 142.24,252.28 143.32,253.29 144.40,254.30 145.50,255.36 146.62,256.49 147.74,257.64 148.83,258.77 149.86,259.83 150.80,260.80 151.63,261.66 152.37,262.44 153.05,263.17 153.70,263.84 154.34,264.48 155.00,265.10 155.64,265.63 156.22,266.06 156.80,266.45 157.42,266.87 158.14,267.40 159.00,268.10 160.06,269.03 161.28,270.15 162.60,271.38 163.94,272.61 165.23,273.79 166.40,274.80 167.44,275.64 168.40,276.36 169.31,277.02 170.19,277.65 171.08,278.29 172.00,279.00 172.96,279.80 173.94,280.65 174.93,281.52 175.90,282.37 176.83,283.14 177.70,283.80 178.50,284.33 179.24,284.77 179.94,285.14 180.62,285.45 181.30,285.73 182.00,286.00 182.74,286.27 183.51,286.51 184.28,286.73 185.02,286.90 185.70,286.99 186.30,287.00 186.79,286.90 187.21,286.71 187.56,286.45 187.88,286.14 188.19,285.82 188.50,285.50 188.81,285.24 189.09,285.04 189.36,284.82 189.62,284.51 189.90,284.03 190.20,283.30 190.52,282.30 190.85,281.09 191.19,279.70 191.54,278.19 191.91,276.61 192.30,275.00 192.72,273.40 193.16,271.79 193.63,270.11 194.09,268.29 194.55,266.27 195.00,264.00 195.43,261.38 195.85,258.44 196.27,255.31 196.68,252.11 197.09,248.97 197.50,246.00 197.90,243.33 198.28,240.87 198.66,238.48 199.04,235.97 199.45,233.20 199.90,230.00 200.40,226.12 200.95,221.65 201.53,216.91 202.09,212.24 202.63,207.96 203.10,204.40 203.50,201.62 203.85,199.37 204.17,197.51 204.47,195.91 204.77,194.45 205.10,193.00 205.43,191.59 205.75,190.34 206.07,189.22 206.41,188.22 206.79,187.32 207.20,186.50 207.67,185.77 208.17,185.14 208.71,184.62 209.26,184.19 209.83,183.85 210.40,183.60 210.98,183.48 211.57,183.49 212.18,183.59 212.79,183.74 213.40,183.90 214.00,184.00" fill="none" stroke="#0a780a" stroke-width="0.9" stroke-linejoin="round"/>
<path d="M23.50,270.33 23.95,270.68 24.40,271.39 24.85,272.14 25.30,272.89 25.75,273.53 26.20,273.95 26.65,274.36 27.10,274.77 27.56,275.38 28.02,276.04 28.49,276.70 28.97,277.25 29.45,277.60 29.93,277.94 30.42,278.29 30.88,278.90 31.33,279.51 31.78,280.13 32.24,280.68 32.72,281.14 33.24,281.56 33.79,281.95 34.38,282.31 35.00,282.61 35.63,282.85 36.26,283.05 36.90,283.30 37.54,283.87 38.16,284.45 38.76,284.66 39.33,284.73 39.86,284.88 40.37,285.54 40.89,286.38 41.45,287.24 42.10,287.39 42.79,287.00 43.43,286.59 43.94,286.25 44.35,285.77 44.71,285.23 45.03,284.55 45.33,283.82 45.61,283.09 45.88,282.37 46.14,281.65 46.39,280.92 46.63,280.38 46.86,279.82 47.09,279.26 47.30,278.68 47.51,278.10 47.70,277.49 47.89,276.88 48.05,276.21 48.21,275.48 48.36,274.74 48.51,274.01 48.65,273.29 48.79,272.56 48.93,271.84 49.06,271.11 49.20,270.39 49.34,269.66 49.49,268.93 49.64,268.22 49.80,267.57 49.97,266.93 50.14,266.29 50.31,265.65 50.46,265.00 50.61,264.35 50.74,263.68 50.87,263.02 50.99,262.34 51.11,261.67 51.22,260.99 51.33,260.27 51.44,259.56 51.54,258.85 51.65,258.13 51.74,257.42 51.84,256.71 51.94,256.00 52.04,255.29 52.14,254.58 52.23,253.87 52.33,253.16 52.43,252.45 52.52,251.74 52.62,251.03 52.71,250.32 52.81,249.61 52.90,248.93 52.99,248.26 53.09,247.58 53.18,246.91 53.28,246.24 53.37,245.56 53.47,244.89 53.56,244.21 53.66,243.54 53.75,242.86 53.85,242.19 53.94,241.52 54.04,240.84 54.14,240.17 54.23,239.49 54.33,238.82 54.42,238.14 54.52,237.42 54.61,236.71 54.71,236.00 54.80,235.29 54.90,234.57 54.99,233.86 55.09,233.15 55.18,232.44 55.28,231.72 55.37,231.01 55.47,230.30 55.56,229.59 55.66,228.87 55.75,228.16 55.85,227.45 55.94,226.74 56.04,226.04 56.13,225.36 56.23,224.68 56.33,224.00 56.43,223.32 56.52,222.64 56.62,221.96 56.72,221.28 56.82,220.60 56.92,219.93 57.02,219.25 57.13,218.57 57.23,217.90 57.34,217.23 57.45,216.55 57.56,215.88 57.67,215.18 57.79,214.46 57.90,213.74 58.02,213.02 58.15,212.30 58.27,211.57 58.40,210.85 58.53,210.12 58.66,209.40 58.78,208.67 58.91,207.95 59.04,207.23 59.16,206.50 59.29,205.83 59.40,205.17 59.52,204.51 59.63,203.84 59.74,203.18 59.85,202.51 59.96,201.84 60.07,201.17 60.18,200.50 60.29,199.84 60.41,199.17 60.53,198.51 60.65,197.85 60.78,197.20 60.92,196.49 61.06,195.77 61.22,195.04 61.39,194.32 61.56,193.59 61.74,192.85 61.93,192.12 62.13,191.38 62.33,190.63 62.55,189.98 62.77,189.38 63.00,188.79 63.25,188.21 63.53,187.66 63.83,187.14 64.16,186.56 64.54,185.89 64.96,185.22 65.42,184.56 65.94,184.15 66.54,184.03 67.21,184.17 67.91,183.74 68.59,183.49 69.24,183.85 69.87,184.45 70.48,185.02 71.07,185.32 71.62,185.68 72.13,186.12 72.61,186.72 73.05,187.34 73.46,187.97 73.85,188.52 74.23,189.02 74.60,189.53 74.97,190.05 75.33,190.63 75.68,191.30 76.03,191.97 76.36,192.64 76.68,193.32 77.00,193.89 77.33,194.40 77.67,194.90 78.02,195.38 78.39,195.84 78.76,196.61 79.14,197.39 79.53,198.17 79.92,198.95 80.31,199.43 80.69,199.84 81.07,200.26 81.45,200.68 81.82,201.27 82.19,201.97 82.56,202.67 82.93,203.37 83.29,204.03 83.65,204.55 84.00,205.07 84.34,205.60 84.68,206.14 85.01,206.78 85.33,207.47 85.64,208.17 85.95,208.86 86.25,209.55 86.56,210.17 86.87,210.72 87.18,211.27 87.49,211.81 87.81,212.36 88.13,212.96 88.44,213.67 88.76,214.37 89.07,215.07 89.38,215.77 89.69,216.45 89.98,217.06 90.27,217.67 90.54,218.29 90.82,218.91 91.09,219.53 91.38,220.20 91.66,220.89 91.95,221.58 92.24,222.27 92.54,222.96 92.83,223.64 93.12,224.20 93.42,224.75 93.71,225.31 94.01,225.86 94.31,226.42 94.60,227.05 94.88,227.73 95.15,228.41 95.41,229.09 95.67,229.77 95.96,230.44 96.27,231.02 96.61,231.57 96.99,232.07 97.39,232.56 97.82,233.16 98.26,233.90 98.71,234.64 99.18,235.39 99.65,235.70 100.13,235.97 100.62,236.22 101.12,236.80 101.63,237.56 102.15,238.33 102.69,238.77 103.25,238.89 103.81,238.97 104.40,239.44 105.01,240.09 105.65,240.68 106.31,240.53 107.00,240.24 107.71,240.47 108.39,240.74 109.04,240.59 109.68,239.92 110.28,239.24 110.89,239.06 111.48,239.00 112.09,238.89 112.70,238.41 113.33,237.95 113.98,237.70 114.64,237.60 115.29,237.45 115.96,237.04 116.62,236.63 117.29,236.45 117.97,236.37 118.65,236.14 119.34,235.61 120.03,235.13 120.72,235.47 121.42,235.85 122.12,235.70 122.82,235.38 123.52,235.44 124.22,235.95 124.92,236.32 125.61,235.97 126.29,235.68 126.97,236.12 127.63,236.71 128.28,237.02 128.92,237.01 129.55,237.02 130.18,237.61 130.80,238.24 131.41,238.65 132.01,238.65 132.60,238.69 133.17,239.11 133.72,239.73 134.24,240.37 134.74,240.73 135.20,241.03 135.65,241.36 136.08,241.79 136.48,242.53 136.89,243.27 137.29,244.00 137.69,244.68 138.09,245.14 138.50,245.60 138.93,246.04 139.36,246.58 139.80,247.31 140.25,248.04 140.70,248.77 141.15,249.26 141.61,249.67 142.07,250.08 142.53,250.52 142.99,251.06 143.46,251.60 143.93,252.13 144.41,252.61 144.88,253.08 145.37,253.54 145.86,254.12 146.36,254.79 146.87,255.47 147.39,255.94 147.92,256.03 148.45,256.11 148.99,256.43 149.52,257.23 150.06,258.03 150.60,258.56 151.14,258.68 151.67,258.80 152.18,259.19 152.67,259.96 153.14,260.74 153.54,261.50 153.89,262.08 154.26,262.60 154.69,263.07 155.16,263.47 155.67,263.98 156.18,264.49 156.71,265.00 157.24,265.38 157.77,265.74 158.30,266.09 158.83,266.59 159.36,267.12 159.88,267.65 160.40,268.08 160.91,268.47 161.41,268.88 161.90,269.51 162.39,270.27 162.88,271.03 163.37,271.61 163.86,271.85 164.34,272.08 164.84,272.34 165.33,273.05 165.84,273.76 166.35,274.47 166.88,274.75 167.41,274.98 167.96,275.19 168.51,275.80 169.06,276.44 169.61,277.07 170.17,277.32 170.72,277.58 171.27,277.89 171.81,278.52 172.35,279.16 172.87,279.76 173.40,280.10 173.92,280.45 174.44,280.81 174.96,281.40 175.47,282.00 175.99,282.59 176.51,282.83 177.03,283.07 177.56,283.30 178.08,284.07 178.60,284.88 179.10,285.70 179.60,286.02 180.11,286.21 180.65,286.32 181.25,286.62 181.93,286.79 182.55,286.54 182.97,285.94 183.30,285.29 183.60,284.62 183.90,283.95 184.20,283.37 184.49,282.82 184.76,282.26 185.02,281.69 185.28,281.11 185.52,280.52 185.76,279.84 185.99,279.13 186.22,278.41 186.44,277.69 186.64,276.98 186.84,276.26 187.02,275.55 187.20,274.85 187.36,274.21 187.52,273.57 187.67,272.92 187.82,272.28 187.97,271.63 188.11,270.98 188.25,270.33 188.40,269.68 188.56,269.04 188.72,268.41 188.89,267.74 189.07,267.02 189.29,266.29 189.59,265.55 189.93,264.78 190.22,264.03 190.46,263.34 190.64,262.73 190.83,262.10 190.97,261.46 191.11,260.80 191.25,260.14 191.38,259.48 191.50,258.80 191.61,258.13 191.73,257.46 191.84,256.79 191.95,256.11 192.07,255.41 192.18,254.70 192.28,253.98 192.39,253.27 192.49,252.55 192.60,251.84 192.70,251.13 192.81,250.41 192.91,249.70 193.01,248.99 193.11,248.27 193.21,247.56 193.32,246.85 193.42,246.13 193.52,245.42 193.62,244.71 193.72,244.04 193.82,243.37 193.92,242.70 194.02,242.02 194.12,241.35 194.21,240.67 194.31,240.00 194.41,239.33 194.51,238.65 194.61,237.98 194.71,237.30 194.81,236.63 194.90,235.95 195.00,235.28 195.10,234.61 195.20,233.93 195.29,233.23 195.39,232.53 195.49,231.83 195.59,231.13 195.68,230.43 195.78,229.73 195.88,229.03 195.98,228.33 196.08,227.63 196.17,226.93 196.27,226.23 196.37,225.53 196.46,224.83 196.56,224.13 196.66,223.43 196.75,222.73 196.84,222.04 196.93,221.35 197.03,220.66 197.11,219.97 197.20,219.28 197.28,218.59 197.37,217.90 197.45,217.21 197.54,216.52 197.62,215.83 197.71,215.14 197.81,214.45 197.90,213.76 198.00,213.08 198.10,212.39 198.20,211.70 198.30,211.02 198.40,210.33 198.50,209.63 198.60,208.92 198.70,208.22 198.81,207.52 198.91,206.81 199.01,206.11 199.12,205.41 199.23,204.70 199.34,204.00 199.45,203.29 199.56,202.59 199.68,201.88 199.79,201.18 199.92,200.47 200.04,199.78 200.17,199.11 200.31,198.44 200.45,197.78 200.59,197.12 200.75,196.46 200.91,195.81 201.07,195.16 201.24,194.51 201.42,193.87 201.60,193.23 201.79,192.51 201.99,191.79 202.19,191.07 202.40,190.34 202.61,189.62 202.84,188.88 203.08,188.15 203.35,187.49 203.64,186.91 203.96,186.35 204.30,185.83 204.67,185.33 205.08,184.73 205.55,184.09 206.13,183.50 206.79,183.36 207.49,183.67 208.18,183.88 208.86,183.60 209.53,183.39 210.18,184.10 210.81,184.91 211.42,185.39 212.04,185.28 212.67,185.10 213.33,185.48 214.00,186.01" fill="none" stroke="#ed1c24" stroke-width="0.9" stroke-linejoin="round"/>
<path d="M23.50,268.60 23.86,269.04 24.23,269.70 24.58,270.49 24.93,271.28 25.28,272.07 25.64,272.84 26.00,273.33 26.37,273.82 26.76,274.29 27.16,274.73 27.59,275.41 28.05,276.11 28.53,276.81 29.05,277.28 29.59,277.49 30.14,277.66 30.72,278.02 31.29,278.57 31.87,279.11 32.44,279.48 33.01,279.81 33.59,280.13 34.17,280.49 34.76,280.85 35.35,281.18 35.94,281.47 36.51,281.77 37.08,282.28 37.62,282.99 38.10,283.71 38.53,284.29 38.94,284.59 39.32,284.92 39.72,285.22 40.18,285.64 40.77,286.53 41.45,287.36 42.10,286.85 42.66,286.06 43.16,285.29 43.61,284.85 44.01,284.38 44.38,283.88 44.73,283.35 45.06,282.64 45.37,281.88 45.66,281.13 45.95,280.39 46.22,279.65 46.48,278.98 46.73,278.48 46.97,277.97 47.20,277.44 47.43,276.90 47.64,276.34 47.86,275.78 48.05,275.15 48.25,274.38 48.43,273.63 48.61,272.88 48.78,272.13 48.95,271.38 49.12,270.64 49.28,269.90 49.45,269.16 49.61,268.42 49.77,267.78 49.93,267.15 50.10,266.51 50.27,265.88 50.44,265.25 50.58,264.60 50.72,263.94 50.84,263.28 50.96,262.61 51.07,261.94 51.19,261.27 51.29,260.56 51.39,259.84 51.50,259.12 51.60,258.40 51.70,257.69 51.80,256.97 51.89,256.26 51.99,255.54 52.09,254.83 52.18,254.11 52.28,253.40 52.37,252.68 52.47,251.97 52.56,251.25 52.66,250.54 52.75,249.83 52.85,249.13 52.94,248.46 53.04,247.79 53.13,247.12 53.23,246.45 53.32,245.78 53.42,245.12 53.52,244.45 53.61,243.78 53.71,243.11 53.81,242.44 53.91,241.78 54.01,241.11 54.11,240.44 54.21,239.78 54.31,239.11 54.40,238.44 54.50,237.72 54.60,237.00 54.70,236.28 54.80,235.57 54.90,234.85 55.00,234.13 55.10,233.41 55.20,232.69 55.30,231.97 55.40,231.26 55.50,230.54 55.60,229.82 55.70,229.10 55.80,228.38 55.91,227.66 56.01,226.95 56.11,226.27 56.21,225.60 56.31,224.93 56.42,224.25 56.52,223.58 56.63,222.91 56.73,222.24 56.84,221.57 56.95,220.90 57.06,220.23 57.17,219.56 57.28,218.89 57.39,218.22 57.51,217.56 57.63,216.88 57.75,216.15 57.87,215.43 58.00,214.69 58.13,213.96 58.26,213.22 58.40,212.48 58.54,211.75 58.68,211.00 58.83,210.26 58.98,209.52 59.13,208.77 59.28,208.08 59.43,207.45 59.57,206.82 59.72,206.18 59.86,205.54 60.00,204.90 60.13,204.26 60.27,203.61 60.40,202.97 60.54,202.32 60.68,201.68 60.81,201.03 60.96,200.30 61.10,199.57 61.25,198.83 61.40,198.10 61.57,197.36 61.73,196.62 61.90,195.88 62.06,195.14 62.24,194.40 62.41,193.66 62.58,193.03 62.76,192.41 62.94,191.79 63.13,191.18 63.32,190.58 63.52,189.98 63.74,189.39 63.96,188.83 64.21,188.14 64.50,187.44 64.83,186.72 65.24,186.01 65.73,185.43 66.29,185.28 66.88,185.20 67.48,184.82 68.12,184.07 68.78,183.33 69.47,183.59 70.17,184.04 70.85,184.25 71.49,184.39 72.09,184.69 72.65,185.25 73.17,185.83 73.66,186.40 74.11,186.79 74.54,187.22 74.95,187.67 75.34,188.22 75.73,188.89 76.11,189.57 76.49,190.24 76.88,190.87 77.26,191.28 77.63,191.70 78.01,192.14 78.37,192.57 78.74,193.37 79.10,194.19 79.45,195.01 79.81,195.83 80.17,196.46 80.53,196.87 80.89,197.27 81.25,197.68 81.60,198.09 81.95,198.82 82.29,199.55 82.63,200.28 82.95,201.01 83.27,201.70 83.57,202.24 83.87,202.80 84.16,203.36 84.44,203.93 84.72,204.50 85.00,205.17 85.28,205.88 85.56,206.59 85.85,207.30 86.15,208.01 86.45,208.69 86.75,209.22 87.06,209.75 87.39,210.27 87.71,210.79 88.04,211.32 88.37,212.04 88.70,212.76 89.03,213.48 89.37,214.20 89.71,214.87 90.04,215.45 90.39,216.02 90.73,216.59 91.07,217.16 91.42,217.81 91.77,218.50 92.12,219.20 92.48,219.90 92.83,220.57 93.19,221.04 93.56,221.50 93.93,221.96 94.30,222.41 94.68,223.00 95.06,223.66 95.44,224.31 95.84,224.95 96.23,225.50 96.64,225.97 97.05,226.43 97.46,226.88 97.88,227.56 98.30,228.36 98.72,229.15 99.15,229.95 99.58,230.31 100.02,230.59 100.46,230.87 100.92,231.27 101.38,232.10 101.86,232.94 102.37,233.79 102.88,233.97 103.42,234.04 103.98,234.08 104.54,234.80 105.14,235.54 105.76,236.07 106.41,235.91 107.08,235.62 107.78,236.09 108.48,236.63 109.16,236.46 109.84,235.75 110.50,235.18 111.15,235.37 111.80,235.55 112.45,235.27 113.11,234.82 113.78,234.49 114.44,234.45 115.10,234.39 115.76,233.98 116.42,233.50 117.08,233.18 117.74,233.08 118.41,232.99 119.09,232.35 119.78,231.72 120.48,231.86 121.18,232.48 121.87,232.83 122.55,232.68 123.22,232.59 123.89,233.34 124.55,234.10 125.20,234.23 125.86,234.00 126.51,233.93 127.16,234.62 127.80,235.33 128.45,235.46 129.10,235.34 129.75,235.40 130.40,236.09 131.04,236.79 131.66,236.85 132.27,236.74 132.85,236.77 133.40,237.44 133.94,238.11 134.47,238.72 134.97,238.87 135.47,239.05 135.95,239.26 136.43,239.99 136.90,240.76 137.36,241.54 137.82,242.11 138.26,242.50 138.70,242.90 139.11,243.33 139.52,244.04 139.92,244.82 140.33,245.59 140.73,246.37 141.13,246.88 141.54,247.33 141.96,247.76 142.39,248.17 142.84,248.72 143.30,249.26 143.78,249.80 144.27,250.28 144.77,250.71 145.27,251.14 145.78,251.67 146.29,252.39 146.80,253.11 147.30,253.70 147.80,253.76 148.30,253.83 148.79,253.91 149.29,254.78 149.78,255.66 150.28,256.55 150.78,256.84 151.28,256.95 151.79,257.04 152.30,257.55 152.84,258.38 153.42,259.21 154.05,259.52 154.63,259.71 155.13,260.04 155.61,260.58 156.07,261.15 156.51,261.73 156.94,262.27 157.38,262.73 157.80,263.20 158.22,263.67 158.64,264.24 159.04,264.87 159.45,265.50 159.83,266.14 160.22,266.71 160.60,267.23 160.98,267.75 161.37,268.26 161.77,268.89 162.17,269.71 162.60,270.53 163.04,271.36 163.52,271.78 164.01,271.95 164.51,272.07 165.04,272.46 165.58,273.21 166.12,273.96 166.67,274.41 167.22,274.56 167.76,274.71 168.31,275.17 168.87,275.86 169.44,276.55 170.00,276.88 170.57,277.06 171.13,277.25 171.69,277.87 172.24,278.55 172.78,279.23 173.32,279.54 173.85,279.83 174.38,280.12 174.92,280.72 175.45,281.34 175.98,281.95 176.51,282.13 177.03,282.31 177.54,282.51 178.04,283.33 178.53,284.23 179.03,285.13 179.54,285.51 180.05,285.62 180.60,285.65 181.17,285.93 181.82,286.27 182.49,286.26 182.99,285.72 183.33,285.08 183.62,284.40 183.90,283.72 184.17,283.13 184.43,282.58 184.66,282.00 184.87,281.41 185.08,280.80 185.28,280.19 185.47,279.58 185.67,278.93 185.86,278.20 186.05,277.48 186.25,276.75 186.44,276.03 186.63,275.30 186.82,274.58 187.01,273.86 187.20,273.13 187.38,272.52 187.56,271.91 187.75,271.30 187.93,270.68 188.11,270.07 188.29,269.46 188.48,268.85 188.66,268.24 188.85,267.59 189.03,266.84 189.22,266.08 189.40,265.33 189.59,264.58 189.77,263.82 189.95,263.06 190.17,262.27 190.47,261.51 190.79,261.03 191.02,260.47 191.18,259.84 191.33,259.20 191.47,258.55 191.59,257.88 191.71,257.21 191.82,256.54 191.93,255.87 192.03,255.17 192.13,254.46 192.22,253.74 192.32,253.02 192.42,252.30 192.52,251.59 192.61,250.87 192.70,250.16 192.79,249.44 192.88,248.73 192.97,248.01 193.06,247.30 193.15,246.58 193.23,245.86 193.32,245.15 193.41,244.44 193.50,243.72 193.59,243.01 193.67,242.33 193.76,241.65 193.85,240.98 193.93,240.30 194.02,239.62 194.11,238.95 194.19,238.27 194.28,237.60 194.37,236.92 194.45,236.24 194.54,235.57 194.62,234.89 194.71,234.22 194.80,233.54 194.88,232.86 194.97,232.19 195.06,231.51 195.14,230.84 195.23,230.15 195.32,229.45 195.41,228.75 195.49,228.05 195.58,227.35 195.67,226.64 195.76,225.94 195.85,225.24 195.94,224.54 196.03,223.84 196.12,223.14 196.21,222.44 196.31,221.73 196.40,221.03 196.50,220.33 196.60,219.63 196.70,218.93 196.81,218.23 196.92,217.55 197.04,216.87 197.16,216.19 197.31,215.53 197.48,214.87 197.66,214.21 197.81,213.54 197.95,212.86 198.08,212.18 198.20,211.50 198.33,210.82 198.45,210.13 198.57,209.42 198.69,208.71 198.81,208.00 198.93,207.29 199.05,206.59 199.17,205.88 199.29,205.17 199.41,204.46 199.54,203.75 199.67,203.04 199.80,202.34 199.93,201.62 200.07,200.94 200.22,200.28 200.37,199.63 200.53,198.98 200.70,198.34 200.87,197.70 201.06,197.08 201.25,196.45 201.46,195.84 201.66,195.19 201.88,194.46 202.11,193.71 202.34,192.97 202.58,192.22 202.82,191.47 203.06,190.73 203.31,190.04 203.56,189.45 203.83,188.87 204.10,188.30 204.40,187.75 204.73,187.24 205.10,186.58 205.51,185.89 205.96,185.20 206.44,184.55 206.97,184.33 207.54,184.20 208.17,184.01 208.85,183.32 209.51,183.05 210.09,183.88 210.64,184.83 211.18,185.74 211.67,185.86 212.12,186.05 212.67,185.91 213.35,186.05 214.00,186.21" fill="none" stroke="#000" stroke-width="1.15" stroke-linejoin="round"/>
<rect x="256.5" y="183.5" width="191.0" height="104.0" fill="none" stroke="#c8c8c8" stroke-width="1"/>
<line x1="254.0" y1="287.5" x2="256.5" y2="287.5" stroke="#c8c8c8" stroke-width="1"/>
<text x="253.3" y="290.1" text-anchor="end" class="tk">0</text>
<line x1="254.0" y1="266.7" x2="256.5" y2="266.7" stroke="#c8c8c8" stroke-width="1"/>
<text x="253.3" y="269.3" text-anchor="end" class="tk">0,2</text>
<line x1="254.0" y1="245.9" x2="256.5" y2="245.9" stroke="#c8c8c8" stroke-width="1"/>
<text x="253.3" y="248.5" text-anchor="end" class="tk">0,4</text>
<line x1="254.0" y1="225.1" x2="256.5" y2="225.1" stroke="#c8c8c8" stroke-width="1"/>
<text x="253.3" y="227.7" text-anchor="end" class="tk">0,6</text>
<line x1="254.0" y1="204.3" x2="256.5" y2="204.3" stroke="#c8c8c8" stroke-width="1"/>
<text x="253.3" y="206.9" text-anchor="end" class="tk">0,8</text>
<line x1="254.0" y1="183.5" x2="256.5" y2="183.5" stroke="#c8c8c8" stroke-width="1"/>
<text x="253.3" y="186.1" text-anchor="end" class="tk">1</text>
<line x1="256.5" y1="287.5" x2="256.5" y2="290.0" stroke="#c8c8c8" stroke-width="1"/>
<text x="256.5" y="296.8" text-anchor="middle" class="tk">22</text>
<line x1="447.5" y1="287.5" x2="447.5" y2="290.0" stroke="#c8c8c8" stroke-width="1"/>
<text x="447.0" y="296.8" text-anchor="middle" class="tk">23</text>
<text x="349.7" y="305.6" text-anchor="middle" class="al">Time, s</text>
<text transform="translate(241.2,235.8) rotate(-90)" text-anchor="middle" class="al">Amplitude, rel. units</text>
<text x="351.5" y="173.3" text-anchor="middle" class="ti">Chebyshev II</text>
<path d="M256.50,274.60 257.63,275.30 258.74,276.00 259.85,276.70 260.98,277.40 262.16,278.10 263.40,278.80 264.75,279.52 266.20,280.25 267.69,280.99 269.17,281.70 270.59,282.38 271.90,283.00 273.10,283.57 274.24,284.10 275.32,284.59 276.34,285.04 277.30,285.44 278.20,285.80 279.00,286.13 279.67,286.43 280.29,286.69 280.91,286.89 281.60,287.00 282.40,287.00 283.34,286.93 284.37,286.80 285.47,286.59 286.59,286.26 287.71,285.77 288.80,285.10 289.87,284.28 290.94,283.35 292.02,282.27 293.08,280.99 294.11,279.48 295.10,277.70 296.06,275.62 297.01,273.28 297.93,270.71 298.80,267.93 299.63,264.98 300.40,261.90 301.07,258.66 301.65,255.24 302.18,251.64 302.70,247.90 303.26,244.01 303.90,240.00 304.65,235.70 305.47,231.06 306.32,226.28 307.19,221.56 308.03,217.10 308.80,213.10 309.51,209.55 310.17,206.29 310.81,203.28 311.44,200.51 312.06,197.96 312.70,195.60 313.36,193.43 314.04,191.49 314.71,189.75 315.37,188.23 316.01,186.91 316.60,185.80 317.13,184.91 317.60,184.23 318.05,183.77 318.50,183.50 318.97,183.41 319.50,183.50 320.10,183.74 320.74,184.15 321.42,184.74 322.10,185.54 322.77,186.55 323.40,187.80 324.00,189.33 324.57,191.14 325.13,193.17 325.69,195.36 326.24,197.66 326.80,200.00 327.39,202.55 327.99,205.39 328.60,208.32 329.19,211.19 329.73,213.81 330.20,216.00 330.58,217.63 330.88,218.81 331.14,219.74 331.39,220.61 331.66,221.64 332.00,223.00 332.40,224.75 332.84,226.73 333.31,228.86 333.80,231.04 334.30,233.19 334.80,235.20 335.31,237.11 335.84,239.01 336.39,240.86 336.93,242.66 337.47,244.38 338.00,246.00 338.51,247.52 339.00,248.97 339.48,250.33 339.97,251.62 340.47,252.84 341.00,254.00 341.55,255.09 342.13,256.10 342.72,257.04 343.31,257.92 343.91,258.74 344.50,259.50 345.08,260.20 345.65,260.84 346.22,261.42 346.80,261.94 347.39,262.40 348.00,262.80 348.64,263.13 349.29,263.39 349.96,263.59 350.64,263.74 351.32,263.88 352.00,264.00 352.63,264.12 353.21,264.24 353.79,264.32 354.43,264.37 355.18,264.37 356.10,264.30 357.22,264.13 358.50,263.88 359.90,263.57 361.35,263.24 362.80,262.94 364.20,262.70 365.55,262.48 366.90,262.26 368.25,262.05 369.60,261.90 370.95,261.84 372.30,261.90 373.66,262.08 375.02,262.36 376.38,262.73 377.74,263.17 379.08,263.70 380.40,264.30 381.70,265.02 382.99,265.87 384.27,266.80 385.53,267.75 386.77,268.67 388.00,269.50 389.23,270.26 390.46,270.99 391.68,271.68 392.86,272.34 393.97,272.95 395.00,273.50 395.86,273.94 396.55,274.26 397.18,274.53 397.84,274.83 398.65,275.23 399.70,275.80 401.04,276.60 402.59,277.57 404.29,278.65 406.05,279.75 407.81,280.79 409.50,281.70 411.17,282.49 412.88,283.24 414.59,283.93 416.25,284.56 417.80,285.12 419.20,285.60 420.43,286.02 421.52,286.40 422.51,286.70 423.42,286.91 424.28,287.02 425.10,287.00 425.87,286.82 426.57,286.50 427.21,286.07 427.82,285.57 428.41,285.04 429.00,284.50 429.57,284.04 430.09,283.64 430.59,283.21 431.10,282.64 431.66,281.83 432.30,280.70 433.03,279.21 433.82,277.43 434.66,275.43 435.51,273.23 436.37,270.91 437.20,268.50 438.02,265.94 438.85,263.19 439.68,260.30 440.49,257.34 441.26,254.39 442.00,251.50 442.70,248.61 443.39,245.66 444.04,242.70 444.66,239.81 445.21,237.06 445.70,234.50 446.10,232.19 446.41,230.08 446.67,228.10 446.91,226.19 447.14,224.28 447.40,222.30" fill="none" stroke="#0a6ef0" stroke-width="0.9" stroke-linejoin="round"/>
<path d="M256.50,273.50 257.63,273.83 258.74,274.14 259.85,274.44 260.98,274.77 262.16,275.15 263.40,275.60 264.73,276.14 266.12,276.75 267.56,277.41 269.01,278.09 270.47,278.76 271.90,279.40 273.35,280.03 274.84,280.67 276.34,281.31 277.78,281.93 279.12,282.49 280.30,283.00 281.31,283.44 282.17,283.81 282.94,284.15 283.64,284.45 284.31,284.73 285.00,285.00 285.69,285.27 286.36,285.53 286.99,285.77 287.61,285.97 288.21,286.12 288.80,286.20 289.37,286.21 289.91,286.17 290.44,286.08 290.96,285.94 291.48,285.74 292.00,285.50 292.53,285.21 293.07,284.87 293.60,284.49 294.12,284.05 294.62,283.55 295.10,283.00 295.53,282.40 295.93,281.74 296.31,281.04 296.69,280.27 297.08,279.42 297.50,278.50 297.96,277.49 298.44,276.41 298.94,275.26 299.44,274.03 299.93,272.75 300.40,271.40 300.85,269.97 301.29,268.44 301.73,266.86 302.15,265.23 302.58,263.60 303.00,262.00 303.41,260.47 303.81,258.99 304.21,257.51 304.61,255.96 305.04,254.28 305.50,252.40 306.00,250.32 306.52,248.09 307.06,245.73 307.63,243.24 308.21,240.66 308.80,238.00 309.40,235.19 310.02,232.21 310.66,229.14 311.31,226.03 311.99,222.96 312.70,220.00 313.45,217.12 314.23,214.26 315.04,211.43 315.86,208.67 316.68,205.98 317.50,203.40 318.32,200.86 319.16,198.33 320.01,195.88 320.84,193.57 321.64,191.49 322.40,189.70 323.12,188.21 323.81,186.98 324.48,185.97 325.11,185.14 325.72,184.46 326.30,183.90 326.83,183.49 327.30,183.27 327.75,183.19 328.20,183.23 328.67,183.35 329.20,183.50 329.81,183.69 330.48,183.96 331.18,184.30 331.87,184.72 332.53,185.22 333.10,185.80 333.58,186.46 333.99,187.20 334.36,188.01 334.72,188.91 335.09,189.91 335.50,191.00 335.95,192.17 336.41,193.40 336.89,194.72 337.38,196.16 337.88,197.74 338.40,199.50 338.92,201.46 339.45,203.60 339.99,205.89 340.56,208.28 341.16,210.73 341.80,213.20 342.50,215.72 343.25,218.34 344.03,221.01 344.83,223.72 345.63,226.42 346.40,229.10 347.18,231.84 347.97,234.69 348.77,237.54 349.54,240.29 350.26,242.81 350.90,245.00 351.45,246.78 351.92,248.21 352.34,249.43 352.74,250.55 353.15,251.70 353.60,253.00 354.08,254.47 354.56,256.00 355.06,257.56 355.56,259.11 356.07,260.60 356.60,262.00 357.15,263.33 357.73,264.64 358.32,265.90 358.91,267.07 359.48,268.11 360.00,269.00 360.47,269.69 360.90,270.21 361.30,270.60 361.70,270.93 362.13,271.24 362.60,271.60 363.12,272.01 363.69,272.42 364.27,272.82 364.87,273.20 365.45,273.53 366.00,273.80 366.52,274.01 367.03,274.16 367.52,274.27 368.01,274.35 368.50,274.39 369.00,274.40 369.49,274.38 369.98,274.32 370.47,274.23 370.96,274.10 371.47,273.96 372.00,273.80 372.52,273.65 373.02,273.52 373.53,273.36 374.09,273.15 374.74,272.84 375.50,272.40 376.41,271.78 377.44,271.01 378.56,270.14 379.72,269.24 380.88,268.37 382.00,267.60 383.11,266.90 384.26,266.22 385.41,265.57 386.52,264.98 387.56,264.45 388.50,264.00 389.32,263.64 390.04,263.37 390.70,263.16 391.31,263.00 391.90,262.89 392.50,262.80 393.06,262.73 393.56,262.69 394.03,262.69 394.53,262.74 395.11,262.88 395.80,263.10 396.63,263.42 397.58,263.83 398.59,264.32 399.64,264.87 400.69,265.46 401.70,266.10 402.68,266.77 403.67,267.48 404.66,268.24 405.64,269.06 406.59,269.95 407.50,270.90 408.37,271.97 409.20,273.16 410.01,274.42 410.80,275.68 411.59,276.89 412.40,278.00 413.21,279.02 414.00,279.99 414.79,280.92 415.60,281.79 416.43,282.58 417.30,283.30 418.24,283.93 419.26,284.49 420.29,284.98 421.31,285.40 422.26,285.77 423.10,286.10 423.80,286.39 424.39,286.65 424.91,286.85 425.41,286.99 425.93,287.04 426.50,287.00 427.14,286.83 427.83,286.54 428.52,286.18 429.22,285.77 429.88,285.36 430.50,285.00 431.04,284.77 431.50,284.65 431.94,284.53 432.40,284.31 432.90,283.87 433.50,283.10 434.21,282.01 435.00,280.67 435.84,279.12 436.70,277.37 437.57,275.46 438.40,273.40 439.22,271.12 440.05,268.59 440.88,265.88 441.69,263.09 442.46,260.30 443.20,257.60 443.92,254.79 444.65,251.76 445.34,248.73 445.97,245.92 446.50,243.54 446.90,241.80 447.12,240.85 447.20,240.55 447.18,240.68 447.10,241.03 447.03,241.37 447.00,241.50" fill="none" stroke="#0a780a" stroke-width="0.9" stroke-linejoin="round"/>
<path d="M256.50,239.80 257.25,241.00 258.00,242.19 258.75,243.38 259.50,244.58 260.25,245.78 261.00,247.00 261.74,248.23 262.46,249.48 263.19,250.73 263.93,251.99 264.69,253.25 265.50,254.50 266.36,255.75 267.27,257.01 268.21,258.26 269.16,259.51 270.09,260.76 271.00,262.00 271.88,263.24 272.74,264.47 273.59,265.70 274.43,266.92 275.27,268.12 276.10,269.30 276.92,270.45 277.72,271.57 278.52,272.67 279.32,273.77 280.15,274.87 281.00,276.00 281.92,277.20 282.91,278.47 283.93,279.74 284.91,280.97 285.81,282.07 286.60,283.00 287.25,283.73 287.79,284.31 288.25,284.77 288.67,285.16 289.08,285.49 289.50,285.80 289.93,286.11 290.33,286.39 290.72,286.62 291.10,286.78 291.49,286.85 291.90,286.80 292.32,286.65 292.74,286.41 293.16,286.09 293.60,285.66 294.04,285.14 294.50,284.50 294.97,283.74 295.45,282.85 295.94,281.86 296.45,280.79 296.97,279.66 297.50,278.50 298.05,277.28 298.61,275.98 299.19,274.62 299.78,273.24 300.38,271.86 301.00,270.50 301.60,269.25 302.17,268.11 302.75,266.97 303.39,265.72 304.12,264.27 305.00,262.50 306.07,260.32 307.31,257.78 308.66,255.03 310.02,252.22 311.33,249.50 312.50,247.00 313.53,244.75 314.46,242.63 315.34,240.59 316.20,238.59 317.07,236.58 318.00,234.50 319.00,232.32 320.03,230.07 321.09,227.81 322.13,225.59 323.15,223.47 324.10,221.50 325.00,219.69 325.86,218.00 326.68,216.41 327.48,214.89 328.25,213.43 329.00,212.00 329.74,210.59 330.47,209.22 331.18,207.91 331.85,206.67 332.46,205.52 333.00,204.50 333.42,203.66 333.72,203.01 333.97,202.46 334.22,201.92 334.55,201.29 335.00,200.50 335.60,199.50 336.31,198.37 337.09,197.15 337.90,195.91 338.72,194.71 339.50,193.60 340.25,192.57 340.99,191.57 341.73,190.60 342.48,189.68 343.27,188.81 344.10,188.00 344.98,187.24 345.90,186.53 346.85,185.87 347.82,185.27 348.81,184.74 349.80,184.30 350.80,183.93 351.83,183.64 352.86,183.42 353.91,183.27 354.96,183.20 356.00,183.20 357.05,183.29 358.10,183.46 359.15,183.70 360.20,184.01 361.25,184.38 362.30,184.80 363.36,185.27 364.46,185.78 365.54,186.36 366.60,187.00 367.60,187.71 368.50,188.50 369.29,189.38 369.98,190.35 370.61,191.39 371.21,192.49 371.83,193.63 372.50,194.80 373.22,196.02 373.96,197.31 374.71,198.64 375.47,200.00 376.24,201.36 377.00,202.70 377.72,203.95 378.40,205.13 379.09,206.30 379.82,207.56 380.64,209.00 381.60,210.70 382.70,212.68 383.90,214.86 385.20,217.22 386.57,219.73 388.01,222.33 389.50,225.00 391.07,227.80 392.74,230.76 394.48,233.83 396.24,236.94 398.00,240.02 399.70,243.00 401.36,245.92 403.00,248.82 404.63,251.70 406.26,254.53 407.88,257.31 409.50,260.00 411.18,262.69 412.92,265.41 414.66,268.07 416.33,270.59 417.87,272.86 419.20,274.80 420.30,276.36 421.21,277.59 421.99,278.57 422.68,279.41 423.33,280.19 424.00,281.00 424.65,281.82 425.23,282.57 425.77,283.26 426.31,283.90 426.88,284.47 427.50,285.00 428.20,285.48 428.95,285.91 429.73,286.29 430.50,286.61 431.23,286.85 431.90,287.00 432.48,287.06 433.01,287.04 433.49,286.94 433.97,286.78 434.46,286.56 435.00,286.30 435.59,285.96 436.20,285.54 436.84,285.07 437.47,284.57 438.10,284.07 438.70,283.60 439.27,283.19 439.82,282.82 440.36,282.46 440.89,282.06 441.44,281.58 442.00,281.00 442.61,280.25 443.26,279.35 443.92,278.38 444.55,277.41 445.12,276.53 445.60,275.80 445.96,275.25 446.23,274.82 446.44,274.47 446.61,274.16 446.79,273.85 447.00,273.50" fill="none" stroke="#ed1c24" stroke-width="0.9" stroke-linejoin="round"/>
<path d="M256.50,268.60 256.86,269.04 257.23,269.70 257.58,270.49 257.93,271.28 258.28,272.07 258.64,272.84 259.00,273.33 259.37,273.82 259.76,274.29 260.16,274.73 260.59,275.41 261.05,276.11 261.53,276.81 262.05,277.28 262.59,277.49 263.14,277.66 263.72,278.02 264.29,278.57 264.87,279.11 265.44,279.48 266.01,279.81 266.59,280.13 267.17,280.49 267.76,280.85 268.35,281.18 268.94,281.47 269.51,281.77 270.08,282.28 270.62,282.99 271.10,283.71 271.53,284.29 271.94,284.59 272.32,284.92 272.72,285.22 273.18,285.64 273.77,286.53 274.45,287.36 275.10,286.85 275.66,286.06 276.16,285.29 276.61,284.85 277.01,284.38 277.38,283.88 277.73,283.35 278.06,282.64 278.37,281.88 278.66,281.13 278.95,280.39 279.22,279.65 279.48,278.98 279.73,278.48 279.97,277.97 280.20,277.44 280.43,276.90 280.64,276.34 280.86,275.78 281.05,275.15 281.25,274.38 281.43,273.63 281.61,272.88 281.78,272.13 281.95,271.38 282.12,270.64 282.28,269.90 282.45,269.16 282.61,268.42 282.77,267.78 282.93,267.15 283.10,266.51 283.27,265.88 283.44,265.25 283.58,264.60 283.72,263.94 283.84,263.28 283.96,262.61 284.07,261.94 284.19,261.27 284.29,260.56 284.39,259.84 284.50,259.12 284.60,258.40 284.70,257.69 284.80,256.97 284.89,256.26 284.99,255.54 285.09,254.83 285.18,254.11 285.28,253.40 285.37,252.68 285.47,251.97 285.56,251.25 285.66,250.54 285.75,249.83 285.85,249.13 285.94,248.46 286.04,247.79 286.13,247.12 286.23,246.45 286.32,245.78 286.42,245.12 286.52,244.45 286.61,243.78 286.71,243.11 286.81,242.44 286.91,241.78 287.01,241.11 287.11,240.44 287.21,239.78 287.31,239.11 287.40,238.44 287.50,237.72 287.60,237.00 287.70,236.28 287.80,235.57 287.90,234.85 288.00,234.13 288.10,233.41 288.20,232.69 288.30,231.97 288.40,231.26 288.50,230.54 288.60,229.82 288.70,229.10 288.80,228.38 288.91,227.66 289.01,226.95 289.11,226.27 289.21,225.60 289.31,224.93 289.42,224.25 289.52,223.58 289.63,222.91 289.73,222.24 289.84,221.57 289.95,220.90 290.06,220.23 290.17,219.56 290.28,218.89 290.39,218.22 290.51,217.56 290.63,216.88 290.75,216.15 290.87,215.43 291.00,214.69 291.13,213.96 291.26,213.22 291.40,212.48 291.54,211.75 291.68,211.00 291.83,210.26 291.98,209.52 292.13,208.77 292.28,208.08 292.43,207.45 292.57,206.82 292.72,206.18 292.86,205.54 293.00,204.90 293.13,204.26 293.27,203.61 293.40,202.97 293.54,202.32 293.68,201.68 293.81,201.03 293.96,200.30 294.10,199.57 294.25,198.83 294.40,198.10 294.57,197.36 294.73,196.62 294.90,195.88 295.06,195.14 295.24,194.40 295.41,193.66 295.58,193.03 295.76,192.41 295.94,191.79 296.13,191.18 296.32,190.58 296.52,189.98 296.74,189.39 296.96,188.83 297.21,188.14 297.50,187.44 297.83,186.72 298.24,186.01 298.73,185.43 299.29,185.28 299.88,185.20 300.48,184.82 301.12,184.07 301.78,183.33 302.47,183.59 303.17,184.04 303.85,184.25 304.49,184.39 305.09,184.69 305.65,185.25 306.17,185.83 306.66,186.40 307.11,186.79 307.54,187.22 307.95,187.67 308.34,188.22 308.73,188.89 309.11,189.57 309.49,190.24 309.88,190.87 310.26,191.28 310.63,191.70 311.01,192.14 311.37,192.57 311.74,193.37 312.10,194.19 312.45,195.01 312.81,195.83 313.17,196.46 313.53,196.87 313.89,197.27 314.25,197.68 314.60,198.09 314.95,198.82 315.29,199.55 315.63,200.28 315.95,201.01 316.27,201.70 316.57,202.24 316.87,202.80 317.16,203.36 317.44,203.93 317.72,204.50 318.00,205.17 318.28,205.88 318.56,206.59 318.85,207.30 319.15,208.01 319.45,208.69 319.75,209.22 320.06,209.75 320.39,210.27 320.71,210.79 321.04,211.32 321.37,212.04 321.70,212.76 322.03,213.48 322.37,214.20 322.71,214.87 323.04,215.45 323.39,216.02 323.73,216.59 324.07,217.16 324.42,217.81 324.77,218.50 325.12,219.20 325.48,219.90 325.83,220.57 326.19,221.04 326.56,221.50 326.93,221.96 327.30,222.41 327.68,223.00 328.06,223.66 328.44,224.31 328.84,224.95 329.23,225.50 329.64,225.97 330.05,226.43 330.46,226.88 330.88,227.56 331.30,228.36 331.72,229.15 332.15,229.95 332.58,230.31 333.02,230.59 333.46,230.87 333.92,231.27 334.38,232.10 334.86,232.94 335.37,233.79 335.88,233.97 336.42,234.04 336.98,234.08 337.54,234.80 338.14,235.54 338.76,236.07 339.41,235.91 340.08,235.62 340.78,236.09 341.48,236.63 342.16,236.46 342.84,235.75 343.50,235.18 344.15,235.37 344.80,235.55 345.45,235.27 346.11,234.82 346.78,234.49 347.44,234.45 348.10,234.39 348.76,233.98 349.42,233.50 350.08,233.18 350.74,233.08 351.41,232.99 352.09,232.35 352.78,231.72 353.48,231.86 354.18,232.48 354.87,232.83 355.55,232.68 356.22,232.59 356.89,233.34 357.55,234.10 358.20,234.23 358.86,234.00 359.51,233.93 360.16,234.62 360.80,235.33 361.45,235.46 362.10,235.34 362.75,235.40 363.40,236.09 364.04,236.79 364.66,236.85 365.27,236.74 365.85,236.77 366.40,237.44 366.94,238.11 367.47,238.72 367.97,238.87 368.47,239.05 368.95,239.26 369.43,239.99 369.90,240.76 370.36,241.54 370.82,242.11 371.26,242.50 371.70,242.90 372.11,243.33 372.52,244.04 372.92,244.82 373.33,245.59 373.73,246.37 374.13,246.88 374.54,247.33 374.96,247.76 375.39,248.17 375.84,248.72 376.30,249.26 376.78,249.80 377.27,250.28 377.77,250.71 378.27,251.14 378.78,251.67 379.29,252.39 379.80,253.11 380.30,253.70 380.80,253.76 381.30,253.83 381.79,253.91 382.29,254.78 382.78,255.66 383.28,256.55 383.78,256.84 384.28,256.95 384.79,257.04 385.30,257.55 385.84,258.38 386.42,259.21 387.05,259.52 387.63,259.71 388.13,260.04 388.61,260.58 389.07,261.15 389.51,261.73 389.94,262.27 390.38,262.73 390.80,263.20 391.22,263.67 391.64,264.24 392.04,264.87 392.45,265.50 392.83,266.14 393.22,266.71 393.60,267.23 393.98,267.75 394.37,268.26 394.77,268.89 395.17,269.71 395.60,270.53 396.04,271.36 396.52,271.78 397.01,271.95 397.51,272.07 398.04,272.46 398.58,273.21 399.12,273.96 399.67,274.41 400.22,274.56 400.76,274.71 401.31,275.17 401.87,275.86 402.44,276.55 403.00,276.88 403.57,277.06 404.13,277.25 404.69,277.87 405.24,278.55 405.78,279.23 406.32,279.54 406.85,279.83 407.38,280.12 407.92,280.72 408.45,281.34 408.98,281.95 409.51,282.13 410.03,282.31 410.54,282.51 411.04,283.33 411.53,284.23 412.03,285.13 412.54,285.51 413.05,285.62 413.60,285.65 414.17,285.93 414.82,286.27 415.49,286.26 415.99,285.72 416.33,285.08 416.62,284.40 416.90,283.72 417.17,283.13 417.43,282.58 417.66,282.00 417.87,281.41 418.08,280.80 418.28,280.19 418.47,279.58 418.67,278.93 418.86,278.20 419.05,277.48 419.25,276.75 419.44,276.03 419.63,275.30 419.82,274.58 420.01,273.86 420.20,273.13 420.38,272.52 420.56,271.91 420.75,271.30 420.93,270.68 421.11,270.07 421.29,269.46 421.48,268.85 421.66,268.24 421.85,267.59 422.03,266.84 422.22,266.08 422.40,265.33 422.59,264.58 422.77,263.82 422.95,263.06 423.17,262.27 423.47,261.51 423.79,261.03 424.02,260.47 424.18,259.84 424.33,259.20 424.47,258.55 424.59,257.88 424.71,257.21 424.82,256.54 424.93,255.87 425.03,255.17 425.13,254.46 425.22,253.74 425.32,253.02 425.42,252.30 425.52,251.59 425.61,250.87 425.70,250.16 425.79,249.44 425.88,248.73 425.97,248.01 426.06,247.30 426.15,246.58 426.23,245.86 426.32,245.15 426.41,244.44 426.50,243.72 426.59,243.01 426.67,242.33 426.76,241.65 426.85,240.98 426.93,240.30 427.02,239.62 427.11,238.95 427.19,238.27 427.28,237.60 427.37,236.92 427.45,236.24 427.54,235.57 427.62,234.89 427.71,234.22 427.80,233.54 427.88,232.86 427.97,232.19 428.06,231.51 428.14,230.84 428.23,230.15 428.32,229.45 428.41,228.75 428.49,228.05 428.58,227.35 428.67,226.64 428.76,225.94 428.85,225.24 428.94,224.54 429.03,223.84 429.12,223.14 429.21,222.44 429.31,221.73 429.40,221.03 429.50,220.33 429.60,219.63 429.70,218.93 429.81,218.23 429.92,217.55 430.04,216.87 430.16,216.19 430.31,215.53 430.48,214.87 430.66,214.21 430.81,213.54 430.95,212.86 431.08,212.18 431.20,211.50 431.33,210.82 431.45,210.13 431.57,209.42 431.69,208.71 431.81,208.00 431.93,207.29 432.05,206.59 432.17,205.88 432.29,205.17 432.41,204.46 432.54,203.75 432.67,203.04 432.80,202.34 432.93,201.62 433.07,200.94 433.22,200.28 433.37,199.63 433.53,198.98 433.70,198.34 433.87,197.70 434.06,197.08 434.25,196.45 434.46,195.84 434.66,195.19 434.88,194.46 435.11,193.71 435.34,192.97 435.58,192.22 435.82,191.47 436.06,190.73 436.31,190.04 436.56,189.45 436.83,188.87 437.10,188.30 437.40,187.75 437.73,187.24 438.10,186.58 438.51,185.89 438.96,185.20 439.44,184.55 439.97,184.33 440.54,184.20 441.17,184.01 441.85,183.32 442.51,183.05 443.09,183.88 443.64,184.83 444.18,185.74 444.67,185.86 445.12,186.05 445.67,185.91 446.35,186.05 447.00,186.21" fill="none" stroke="#000" stroke-width="1.15" stroke-linejoin="round"/>
<line x1="514" y1="211.5" x2="552" y2="211.5" stroke="#000" stroke-width="1.6"/>
<text transform="translate(564.2,215.2) scale(1,1.05)" class="lg">reference signal</text>
<line x1="514" y1="228.6" x2="552" y2="228.6" stroke="#ed1c24" stroke-width="1.6"/>
<text transform="translate(564.2,233.2) scale(1,1.05)" class="lg">2nd order</text>
<line x1="514" y1="246.3" x2="552" y2="246.3" stroke="#0a780a" stroke-width="1.6"/>
<text transform="translate(564.2,251.3) scale(1,1.05)" class="lg">4th order</text>
<line x1="514" y1="264.4" x2="552" y2="264.4" stroke="#0a6ef0" stroke-width="1.6"/>
<text transform="translate(564.2,269.4) scale(1,1.05)" class="lg">6th order</text>
</svg>
</body></html>
